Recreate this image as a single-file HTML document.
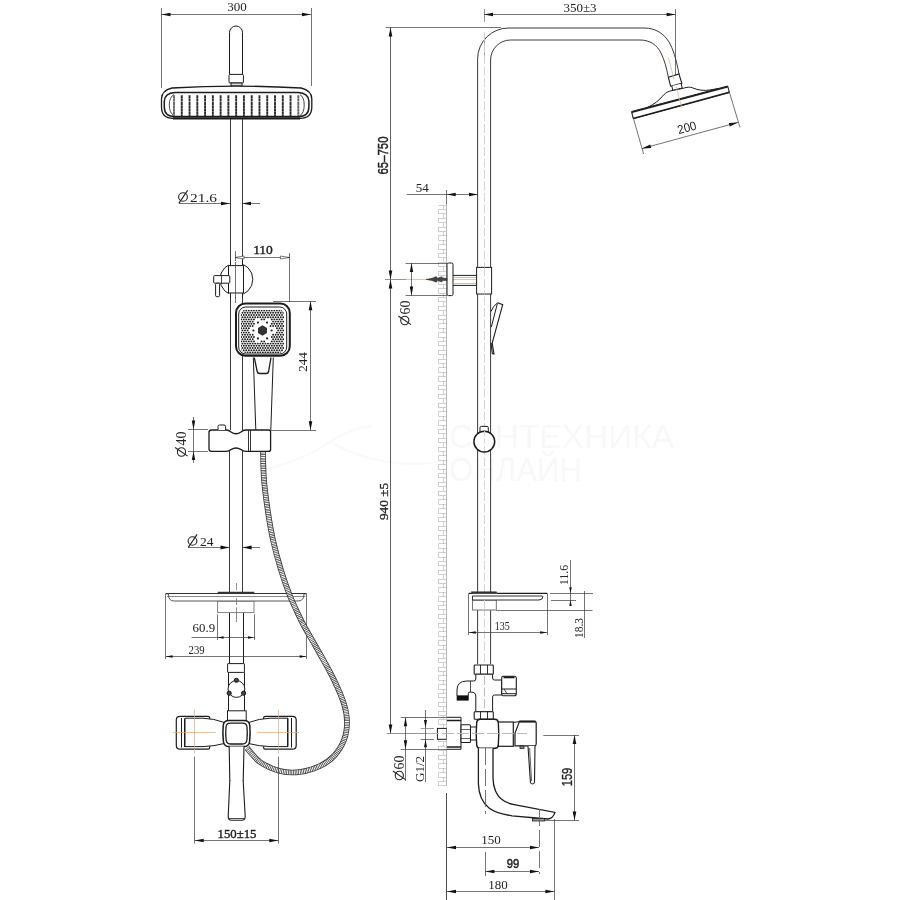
<!DOCTYPE html>
<html><head><meta charset="utf-8"><title>Shower system drawing</title>
<style>html,body{margin:0;padding:0;background:#fff}svg{display:block;will-change:transform}</style>
</head><body>
<svg width="900" height="900" viewBox="0 0 900 900">
<rect width="900" height="900" fill="#fff"/>
<text x="449" y="448" style="font-family:&quot;Liberation Sans&quot;,serif" font-size="34" font-weight="normal" text-anchor="start" fill="#f8f8f8" textLength="225" lengthAdjust="spacingAndGlyphs" >САНТЕХНИКА</text>
<text x="449" y="481" style="font-family:&quot;Liberation Sans&quot;,serif" font-size="34" font-weight="normal" text-anchor="start" fill="#f8f8f8" textLength="133" lengthAdjust="spacingAndGlyphs" >ОНЛАЙН</text>
<path d="M262,470 Q300,462 330,442 Q350,428 372,426 M330,442 Q380,470 440,462" stroke="#fafafa" stroke-width="2.5" fill="none" />
<line x1="161.5" y1="8" x2="161.5" y2="88" stroke="#3a3a3a" stroke-width="0.7" />
<line x1="311.5" y1="8" x2="311.5" y2="86" stroke="#3a3a3a" stroke-width="0.7" />
<line x1="161.5" y1="14.5" x2="311" y2="14.5" stroke="#3a3a3a" stroke-width="0.7" />
<polygon points="161.50,14.50 170.50,12.70 170.50,16.30" fill="#111" stroke="none" stroke-width="0.6"/>
<polygon points="311.00,14.50 302.00,16.30 302.00,12.70" fill="#111" stroke="none" stroke-width="0.6"/>
<text x="237" y="10.5" style="font-family:&quot;Liberation Serif&quot;,serif" font-size="13" font-weight="normal" text-anchor="middle" fill="#222" >300</text>
<path d="M229.5,74.4 V32.5 A6.5,6.5 0 0 1 242.5,32.5 V74.4" stroke="#1c1c1c" stroke-width="1" fill="none" />
<rect x="229" y="74.4" width="14.4" height="8.6" rx="1" stroke="#1c1c1c" stroke-width="1" fill="#fff" />
<rect x="231" y="83" width="11" height="3" rx="0" stroke="#1c1c1c" stroke-width="1" fill="#ddd" />
<line x1="230.5" y1="119" x2="230.5" y2="430" stroke="#303030" stroke-width="0.95" />
<line x1="242.5" y1="119" x2="242.5" y2="430" stroke="#303030" stroke-width="0.95" />
<line x1="229.5" y1="448" x2="229.5" y2="593" stroke="#303030" stroke-width="0.95" />
<line x1="242.5" y1="448" x2="242.5" y2="593" stroke="#303030" stroke-width="0.95" />
<line x1="229.5" y1="612.6" x2="229.5" y2="663.6" stroke="#1c1c1c" stroke-width="1" />
<line x1="243.5" y1="612.6" x2="243.5" y2="663.6" stroke="#1c1c1c" stroke-width="1" />
<path d="M161.5,99 Q161.5,90.5 172,88 Q236,84.2 301,88 Q311.8,90.5 311.8,99 V107 Q311.8,118.3 300,118.3 H173 Q161.5,118.3 161.5,107 Z" stroke="#1c1c1c" stroke-width="1.3" fill="#fff" />
<path d="M173,118.3 H300" stroke="#1c1c1c" stroke-width="2.2" fill="none" />
<path d="M164.3,101 Q164.6,93 175,92.4 H298 Q308.6,93 308.9,101 V107 Q308.9,116.6 298,116.6 H175 Q164.3,116.6 164.3,107 Z" stroke="#1c1c1c" stroke-width="1.5" fill="none" />
<path d="M174,94.6 Q169.3,97 169.3,105 Q169.3,113 174,115.6 M300,94.6 Q304.2,97 304.2,105 Q304.2,113 300,115.6" stroke="#333" stroke-width="0.9" fill="none" />
<line x1="174.0" y1="95.3" x2="174.0" y2="116" stroke="#666" stroke-width="1.9" stroke-dasharray="3 0.3"/>
<line x1="181.77" y1="95.3" x2="181.77" y2="116" stroke="#2a2a2a" stroke-width="1.9" stroke-dasharray="3 0.3"/>
<line x1="189.54" y1="95.3" x2="189.54" y2="116" stroke="#2a2a2a" stroke-width="1.9" stroke-dasharray="3 0.3"/>
<line x1="197.31" y1="95.3" x2="197.31" y2="116" stroke="#2a2a2a" stroke-width="1.9" stroke-dasharray="3 0.3"/>
<line x1="205.08" y1="95.3" x2="205.08" y2="116" stroke="#2a2a2a" stroke-width="1.9" stroke-dasharray="3 0.3"/>
<line x1="212.85" y1="95.3" x2="212.85" y2="116" stroke="#2a2a2a" stroke-width="1.9" stroke-dasharray="3 0.3"/>
<line x1="220.62" y1="95.3" x2="220.62" y2="116" stroke="#2a2a2a" stroke-width="1.9" stroke-dasharray="3 0.3"/>
<line x1="228.39" y1="95.3" x2="228.39" y2="116" stroke="#2a2a2a" stroke-width="1.9" stroke-dasharray="3 0.3"/>
<line x1="236.16" y1="95.3" x2="236.16" y2="116" stroke="#2a2a2a" stroke-width="1.9" stroke-dasharray="3 0.3"/>
<line x1="243.93" y1="95.3" x2="243.93" y2="116" stroke="#2a2a2a" stroke-width="1.9" stroke-dasharray="3 0.3"/>
<line x1="251.7" y1="95.3" x2="251.7" y2="116" stroke="#2a2a2a" stroke-width="1.9" stroke-dasharray="3 0.3"/>
<line x1="259.47" y1="95.3" x2="259.47" y2="116" stroke="#2a2a2a" stroke-width="1.9" stroke-dasharray="3 0.3"/>
<line x1="267.24" y1="95.3" x2="267.24" y2="116" stroke="#2a2a2a" stroke-width="1.9" stroke-dasharray="3 0.3"/>
<line x1="275.01" y1="95.3" x2="275.01" y2="116" stroke="#2a2a2a" stroke-width="1.9" stroke-dasharray="3 0.3"/>
<line x1="282.78" y1="95.3" x2="282.78" y2="116" stroke="#2a2a2a" stroke-width="1.9" stroke-dasharray="3 0.3"/>
<line x1="290.55" y1="95.3" x2="290.55" y2="116" stroke="#2a2a2a" stroke-width="1.9" stroke-dasharray="3 0.3"/>
<line x1="298.32" y1="95.3" x2="298.32" y2="116" stroke="#666" stroke-width="1.9" stroke-dasharray="3 0.3"/>
<line x1="179" y1="203.5" x2="230" y2="203.5" stroke="#3a3a3a" stroke-width="0.7" />
<line x1="242" y1="203.5" x2="260" y2="203.5" stroke="#3a3a3a" stroke-width="0.7" />
<polygon points="230.00,203.50 221.00,205.30 221.00,201.70" fill="#111" stroke="none" stroke-width="0.6"/>
<polygon points="242.00,203.50 251.00,201.70 251.00,205.30" fill="#111" stroke="none" stroke-width="0.6"/>
<g transform="rotate(0 183 197)"><ellipse cx="183" cy="197" rx="4.4" ry="4.18" fill="none" stroke="#222" stroke-width="1.1"/><line x1="178.82" y1="203.38" x2="187.62" y2="190.4" stroke="#222" stroke-width="1.1"/></g>
<text x="190" y="201.8" style="font-family:&quot;Liberation Serif&quot;,serif" font-size="13.5" font-weight="normal" text-anchor="start" fill="#222" textLength="27" lengthAdjust="spacingAndGlyphs" >21.6</text>
<line x1="235.5" y1="251" x2="235.5" y2="303" stroke="#3a3a3a" stroke-width="0.7" />
<line x1="289.5" y1="253" x2="289.5" y2="302" stroke="#3a3a3a" stroke-width="0.7" />
<line x1="235" y1="257.5" x2="289.4" y2="257.5" stroke="#3a3a3a" stroke-width="0.7" />
<polygon points="235.00,257.50 244.00,256.00 244.00,259.00" fill="#fff" stroke="#222" stroke-width="0.6"/>
<polygon points="289.40,257.50 280.40,259.00 280.40,256.00" fill="#fff" stroke="#222" stroke-width="0.6"/>
<text x="263" y="253.8" style="font-family:&quot;Liberation Serif&quot;,serif" font-size="13.5" font-weight="normal" text-anchor="middle" fill="#222" stroke="#222" stroke-width="0.4">110</text>
<circle cx="236.4" cy="279.3" r="16.4" stroke="#1c1c1c" stroke-width="1" fill="#fff"/>
<rect x="228.6" y="261" width="14.8" height="36" rx="0" stroke="none" stroke-width="0" fill="#fff" />
<rect x="228.5" y="265.6" width="15.0" height="27.4" rx="0" stroke="#1c1c1c" stroke-width="1" fill="#fff" />
<line x1="230.5" y1="261" x2="230.5" y2="265.6" stroke="#1c1c1c" stroke-width="1" />
<line x1="242.5" y1="261" x2="242.5" y2="265.6" stroke="#1c1c1c" stroke-width="1" />
<line x1="230.5" y1="293" x2="230.5" y2="298" stroke="#1c1c1c" stroke-width="1" />
<line x1="242.5" y1="293" x2="242.5" y2="298" stroke="#1c1c1c" stroke-width="1" />
<line x1="235.5" y1="262" x2="235.5" y2="298" stroke="#3a3a3a" stroke-width="0.7" />
<rect x="213.7" y="275.6" width="16.1" height="7.6" rx="0.8" stroke="#1c1c1c" stroke-width="1" fill="#fff" />
<rect x="215.6" y="283.2" width="4.0" height="13.5" rx="1.2" stroke="#1c1c1c" stroke-width="1" fill="#fff" />
<line x1="221.5" y1="275.6" x2="221.5" y2="283.2" stroke="#1c1c1c" stroke-width="0.8" />
<rect x="236" y="303.5" width="53.8" height="52.3" rx="9.5" stroke="#1c1c1c" stroke-width="2" fill="#fff" />
<rect x="238.7" y="307" width="48.0" height="47" rx="7" stroke="#1c1c1c" stroke-width="1" fill="none" />
<clipPath id="hc"><rect x="241" y="309.5" width="43" height="43.5" rx="5"/></clipPath>
<g clip-path="url(#hc)">
<circle cx="241.20" cy="310.60" r="0.95" fill="#1e1e1e"/>
<circle cx="243.75" cy="310.60" r="0.95" fill="#1e1e1e"/>
<circle cx="246.30" cy="310.60" r="0.95" fill="#1e1e1e"/>
<circle cx="248.85" cy="310.60" r="0.95" fill="#1e1e1e"/>
<circle cx="251.40" cy="310.60" r="0.95" fill="#1e1e1e"/>
<circle cx="253.95" cy="310.60" r="0.95" fill="#1e1e1e"/>
<circle cx="256.50" cy="310.60" r="0.95" fill="#1e1e1e"/>
<circle cx="259.05" cy="310.60" r="0.95" fill="#1e1e1e"/>
<circle cx="261.60" cy="310.60" r="0.95" fill="#1e1e1e"/>
<circle cx="264.15" cy="310.60" r="0.95" fill="#1e1e1e"/>
<circle cx="266.70" cy="310.60" r="0.95" fill="#1e1e1e"/>
<circle cx="269.25" cy="310.60" r="0.95" fill="#1e1e1e"/>
<circle cx="271.80" cy="310.60" r="0.95" fill="#1e1e1e"/>
<circle cx="274.35" cy="310.60" r="0.95" fill="#1e1e1e"/>
<circle cx="276.90" cy="310.60" r="0.95" fill="#1e1e1e"/>
<circle cx="279.45" cy="310.60" r="0.95" fill="#1e1e1e"/>
<circle cx="282.00" cy="310.60" r="0.95" fill="#1e1e1e"/>
<circle cx="242.47" cy="312.80" r="0.95" fill="#1e1e1e"/>
<circle cx="245.03" cy="312.80" r="0.95" fill="#1e1e1e"/>
<circle cx="247.58" cy="312.80" r="0.95" fill="#1e1e1e"/>
<circle cx="250.13" cy="312.80" r="0.95" fill="#1e1e1e"/>
<circle cx="252.68" cy="312.80" r="0.95" fill="#1e1e1e"/>
<circle cx="255.23" cy="312.80" r="0.95" fill="#1e1e1e"/>
<circle cx="257.78" cy="312.80" r="0.95" fill="#1e1e1e"/>
<circle cx="260.33" cy="312.80" r="0.95" fill="#1e1e1e"/>
<circle cx="262.88" cy="312.80" r="0.95" fill="#1e1e1e"/>
<circle cx="265.43" cy="312.80" r="0.95" fill="#1e1e1e"/>
<circle cx="267.98" cy="312.80" r="0.95" fill="#1e1e1e"/>
<circle cx="270.53" cy="312.80" r="0.95" fill="#1e1e1e"/>
<circle cx="273.08" cy="312.80" r="0.95" fill="#1e1e1e"/>
<circle cx="275.63" cy="312.80" r="0.95" fill="#1e1e1e"/>
<circle cx="278.18" cy="312.80" r="0.95" fill="#1e1e1e"/>
<circle cx="280.73" cy="312.80" r="0.95" fill="#1e1e1e"/>
<circle cx="283.28" cy="312.80" r="0.95" fill="#1e1e1e"/>
<circle cx="241.20" cy="315.00" r="0.95" fill="#1e1e1e"/>
<circle cx="243.75" cy="315.00" r="0.95" fill="#1e1e1e"/>
<circle cx="246.30" cy="315.00" r="0.95" fill="#1e1e1e"/>
<circle cx="248.85" cy="315.00" r="0.95" fill="#1e1e1e"/>
<circle cx="251.40" cy="315.00" r="0.95" fill="#1e1e1e"/>
<circle cx="253.95" cy="315.00" r="0.95" fill="#1e1e1e"/>
<circle cx="256.50" cy="315.00" r="0.95" fill="#1e1e1e"/>
<circle cx="259.05" cy="315.00" r="0.95" fill="#1e1e1e"/>
<circle cx="261.60" cy="315.00" r="0.95" fill="#1e1e1e"/>
<circle cx="264.15" cy="315.00" r="0.95" fill="#1e1e1e"/>
<circle cx="266.70" cy="315.00" r="0.95" fill="#1e1e1e"/>
<circle cx="269.25" cy="315.00" r="0.95" fill="#1e1e1e"/>
<circle cx="271.80" cy="315.00" r="0.95" fill="#1e1e1e"/>
<circle cx="274.35" cy="315.00" r="0.95" fill="#1e1e1e"/>
<circle cx="276.90" cy="315.00" r="0.95" fill="#1e1e1e"/>
<circle cx="279.45" cy="315.00" r="0.95" fill="#1e1e1e"/>
<circle cx="282.00" cy="315.00" r="0.95" fill="#1e1e1e"/>
<circle cx="242.47" cy="317.20" r="0.95" fill="#1e1e1e"/>
<circle cx="245.03" cy="317.20" r="0.95" fill="#1e1e1e"/>
<circle cx="247.58" cy="317.20" r="0.95" fill="#1e1e1e"/>
<circle cx="250.13" cy="317.20" r="0.95" fill="#1e1e1e"/>
<circle cx="252.68" cy="317.20" r="0.95" fill="#1e1e1e"/>
<circle cx="255.23" cy="317.20" r="0.95" fill="#1e1e1e"/>
<circle cx="257.78" cy="317.20" r="0.95" fill="#1e1e1e"/>
<circle cx="260.33" cy="317.20" r="0.95" fill="#1e1e1e"/>
<circle cx="262.88" cy="317.20" r="0.95" fill="#1e1e1e"/>
<circle cx="265.43" cy="317.20" r="0.95" fill="#1e1e1e"/>
<circle cx="267.98" cy="317.20" r="0.95" fill="#1e1e1e"/>
<circle cx="270.53" cy="317.20" r="0.95" fill="#1e1e1e"/>
<circle cx="273.08" cy="317.20" r="0.95" fill="#1e1e1e"/>
<circle cx="275.63" cy="317.20" r="0.95" fill="#1e1e1e"/>
<circle cx="278.18" cy="317.20" r="0.95" fill="#1e1e1e"/>
<circle cx="280.73" cy="317.20" r="0.95" fill="#1e1e1e"/>
<circle cx="283.28" cy="317.20" r="0.95" fill="#1e1e1e"/>
<circle cx="241.20" cy="319.40" r="0.95" fill="#1e1e1e"/>
<circle cx="243.75" cy="319.40" r="0.95" fill="#1e1e1e"/>
<circle cx="246.30" cy="319.40" r="0.95" fill="#1e1e1e"/>
<circle cx="248.85" cy="319.40" r="0.95" fill="#1e1e1e"/>
<circle cx="251.40" cy="319.40" r="0.95" fill="#1e1e1e"/>
<circle cx="253.95" cy="319.40" r="0.95" fill="#1e1e1e"/>
<circle cx="261.60" cy="319.40" r="0.95" fill="#1e1e1e"/>
<circle cx="264.15" cy="319.40" r="0.95" fill="#1e1e1e"/>
<circle cx="271.80" cy="319.40" r="0.95" fill="#1e1e1e"/>
<circle cx="274.35" cy="319.40" r="0.95" fill="#1e1e1e"/>
<circle cx="276.90" cy="319.40" r="0.95" fill="#1e1e1e"/>
<circle cx="279.45" cy="319.40" r="0.95" fill="#1e1e1e"/>
<circle cx="282.00" cy="319.40" r="0.95" fill="#1e1e1e"/>
<circle cx="242.47" cy="321.60" r="0.95" fill="#1e1e1e"/>
<circle cx="245.03" cy="321.60" r="0.95" fill="#1e1e1e"/>
<circle cx="247.58" cy="321.60" r="0.95" fill="#1e1e1e"/>
<circle cx="250.13" cy="321.60" r="0.95" fill="#1e1e1e"/>
<circle cx="252.68" cy="321.60" r="0.95" fill="#1e1e1e"/>
<circle cx="273.08" cy="321.60" r="0.95" fill="#1e1e1e"/>
<circle cx="275.63" cy="321.60" r="0.95" fill="#1e1e1e"/>
<circle cx="278.18" cy="321.60" r="0.95" fill="#1e1e1e"/>
<circle cx="280.73" cy="321.60" r="0.95" fill="#1e1e1e"/>
<circle cx="283.28" cy="321.60" r="0.95" fill="#1e1e1e"/>
<circle cx="241.20" cy="323.80" r="0.95" fill="#1e1e1e"/>
<circle cx="243.75" cy="323.80" r="0.95" fill="#1e1e1e"/>
<circle cx="246.30" cy="323.80" r="0.95" fill="#1e1e1e"/>
<circle cx="248.85" cy="323.80" r="0.95" fill="#1e1e1e"/>
<circle cx="251.40" cy="323.80" r="0.95" fill="#1e1e1e"/>
<circle cx="253.95" cy="323.80" r="0.95" fill="#1e1e1e"/>
<circle cx="271.80" cy="323.80" r="0.95" fill="#1e1e1e"/>
<circle cx="274.35" cy="323.80" r="0.95" fill="#1e1e1e"/>
<circle cx="276.90" cy="323.80" r="0.95" fill="#1e1e1e"/>
<circle cx="279.45" cy="323.80" r="0.95" fill="#1e1e1e"/>
<circle cx="282.00" cy="323.80" r="0.95" fill="#1e1e1e"/>
<circle cx="242.47" cy="326.00" r="0.95" fill="#1e1e1e"/>
<circle cx="245.03" cy="326.00" r="0.95" fill="#1e1e1e"/>
<circle cx="247.58" cy="326.00" r="0.95" fill="#1e1e1e"/>
<circle cx="250.13" cy="326.00" r="0.95" fill="#1e1e1e"/>
<circle cx="252.68" cy="326.00" r="0.95" fill="#1e1e1e"/>
<circle cx="270.53" cy="326.00" r="0.95" fill="#1e1e1e"/>
<circle cx="273.08" cy="326.00" r="0.95" fill="#1e1e1e"/>
<circle cx="275.63" cy="326.00" r="0.95" fill="#1e1e1e"/>
<circle cx="278.18" cy="326.00" r="0.95" fill="#1e1e1e"/>
<circle cx="280.73" cy="326.00" r="0.95" fill="#1e1e1e"/>
<circle cx="283.28" cy="326.00" r="0.95" fill="#1e1e1e"/>
<circle cx="241.20" cy="328.20" r="0.95" fill="#1e1e1e"/>
<circle cx="243.75" cy="328.20" r="0.95" fill="#1e1e1e"/>
<circle cx="246.30" cy="328.20" r="0.95" fill="#1e1e1e"/>
<circle cx="248.85" cy="328.20" r="0.95" fill="#1e1e1e"/>
<circle cx="276.90" cy="328.20" r="0.95" fill="#1e1e1e"/>
<circle cx="279.45" cy="328.20" r="0.95" fill="#1e1e1e"/>
<circle cx="282.00" cy="328.20" r="0.95" fill="#1e1e1e"/>
<circle cx="242.47" cy="330.40" r="0.95" fill="#1e1e1e"/>
<circle cx="245.03" cy="330.40" r="0.95" fill="#1e1e1e"/>
<circle cx="247.58" cy="330.40" r="0.95" fill="#1e1e1e"/>
<circle cx="278.18" cy="330.40" r="0.95" fill="#1e1e1e"/>
<circle cx="280.73" cy="330.40" r="0.95" fill="#1e1e1e"/>
<circle cx="283.28" cy="330.40" r="0.95" fill="#1e1e1e"/>
<circle cx="241.20" cy="332.60" r="0.95" fill="#1e1e1e"/>
<circle cx="243.75" cy="332.60" r="0.95" fill="#1e1e1e"/>
<circle cx="246.30" cy="332.60" r="0.95" fill="#1e1e1e"/>
<circle cx="248.85" cy="332.60" r="0.95" fill="#1e1e1e"/>
<circle cx="276.90" cy="332.60" r="0.95" fill="#1e1e1e"/>
<circle cx="279.45" cy="332.60" r="0.95" fill="#1e1e1e"/>
<circle cx="282.00" cy="332.60" r="0.95" fill="#1e1e1e"/>
<circle cx="242.47" cy="334.80" r="0.95" fill="#1e1e1e"/>
<circle cx="245.03" cy="334.80" r="0.95" fill="#1e1e1e"/>
<circle cx="247.58" cy="334.80" r="0.95" fill="#1e1e1e"/>
<circle cx="250.13" cy="334.80" r="0.95" fill="#1e1e1e"/>
<circle cx="252.68" cy="334.80" r="0.95" fill="#1e1e1e"/>
<circle cx="273.08" cy="334.80" r="0.95" fill="#1e1e1e"/>
<circle cx="275.63" cy="334.80" r="0.95" fill="#1e1e1e"/>
<circle cx="278.18" cy="334.80" r="0.95" fill="#1e1e1e"/>
<circle cx="280.73" cy="334.80" r="0.95" fill="#1e1e1e"/>
<circle cx="283.28" cy="334.80" r="0.95" fill="#1e1e1e"/>
<circle cx="241.20" cy="337.00" r="0.95" fill="#1e1e1e"/>
<circle cx="243.75" cy="337.00" r="0.95" fill="#1e1e1e"/>
<circle cx="246.30" cy="337.00" r="0.95" fill="#1e1e1e"/>
<circle cx="248.85" cy="337.00" r="0.95" fill="#1e1e1e"/>
<circle cx="251.40" cy="337.00" r="0.95" fill="#1e1e1e"/>
<circle cx="253.95" cy="337.00" r="0.95" fill="#1e1e1e"/>
<circle cx="271.80" cy="337.00" r="0.95" fill="#1e1e1e"/>
<circle cx="274.35" cy="337.00" r="0.95" fill="#1e1e1e"/>
<circle cx="276.90" cy="337.00" r="0.95" fill="#1e1e1e"/>
<circle cx="279.45" cy="337.00" r="0.95" fill="#1e1e1e"/>
<circle cx="282.00" cy="337.00" r="0.95" fill="#1e1e1e"/>
<circle cx="242.47" cy="339.20" r="0.95" fill="#1e1e1e"/>
<circle cx="245.03" cy="339.20" r="0.95" fill="#1e1e1e"/>
<circle cx="247.58" cy="339.20" r="0.95" fill="#1e1e1e"/>
<circle cx="250.13" cy="339.20" r="0.95" fill="#1e1e1e"/>
<circle cx="252.68" cy="339.20" r="0.95" fill="#1e1e1e"/>
<circle cx="273.08" cy="339.20" r="0.95" fill="#1e1e1e"/>
<circle cx="275.63" cy="339.20" r="0.95" fill="#1e1e1e"/>
<circle cx="278.18" cy="339.20" r="0.95" fill="#1e1e1e"/>
<circle cx="280.73" cy="339.20" r="0.95" fill="#1e1e1e"/>
<circle cx="283.28" cy="339.20" r="0.95" fill="#1e1e1e"/>
<circle cx="241.20" cy="341.40" r="0.95" fill="#1e1e1e"/>
<circle cx="243.75" cy="341.40" r="0.95" fill="#1e1e1e"/>
<circle cx="246.30" cy="341.40" r="0.95" fill="#1e1e1e"/>
<circle cx="248.85" cy="341.40" r="0.95" fill="#1e1e1e"/>
<circle cx="251.40" cy="341.40" r="0.95" fill="#1e1e1e"/>
<circle cx="253.95" cy="341.40" r="0.95" fill="#1e1e1e"/>
<circle cx="261.60" cy="341.40" r="0.95" fill="#1e1e1e"/>
<circle cx="264.15" cy="341.40" r="0.95" fill="#1e1e1e"/>
<circle cx="271.80" cy="341.40" r="0.95" fill="#1e1e1e"/>
<circle cx="274.35" cy="341.40" r="0.95" fill="#1e1e1e"/>
<circle cx="276.90" cy="341.40" r="0.95" fill="#1e1e1e"/>
<circle cx="279.45" cy="341.40" r="0.95" fill="#1e1e1e"/>
<circle cx="282.00" cy="341.40" r="0.95" fill="#1e1e1e"/>
<circle cx="242.47" cy="343.60" r="0.95" fill="#1e1e1e"/>
<circle cx="245.03" cy="343.60" r="0.95" fill="#1e1e1e"/>
<circle cx="247.58" cy="343.60" r="0.95" fill="#1e1e1e"/>
<circle cx="250.13" cy="343.60" r="0.95" fill="#1e1e1e"/>
<circle cx="252.68" cy="343.60" r="0.95" fill="#1e1e1e"/>
<circle cx="255.23" cy="343.60" r="0.95" fill="#1e1e1e"/>
<circle cx="257.78" cy="343.60" r="0.95" fill="#1e1e1e"/>
<circle cx="260.33" cy="343.60" r="0.95" fill="#1e1e1e"/>
<circle cx="262.88" cy="343.60" r="0.95" fill="#1e1e1e"/>
<circle cx="265.43" cy="343.60" r="0.95" fill="#1e1e1e"/>
<circle cx="267.98" cy="343.60" r="0.95" fill="#1e1e1e"/>
<circle cx="270.53" cy="343.60" r="0.95" fill="#1e1e1e"/>
<circle cx="273.08" cy="343.60" r="0.95" fill="#1e1e1e"/>
<circle cx="275.63" cy="343.60" r="0.95" fill="#1e1e1e"/>
<circle cx="278.18" cy="343.60" r="0.95" fill="#1e1e1e"/>
<circle cx="280.73" cy="343.60" r="0.95" fill="#1e1e1e"/>
<circle cx="283.28" cy="343.60" r="0.95" fill="#1e1e1e"/>
<circle cx="241.20" cy="345.80" r="0.95" fill="#1e1e1e"/>
<circle cx="243.75" cy="345.80" r="0.95" fill="#1e1e1e"/>
<circle cx="246.30" cy="345.80" r="0.95" fill="#1e1e1e"/>
<circle cx="248.85" cy="345.80" r="0.95" fill="#1e1e1e"/>
<circle cx="251.40" cy="345.80" r="0.95" fill="#1e1e1e"/>
<circle cx="253.95" cy="345.80" r="0.95" fill="#1e1e1e"/>
<circle cx="256.50" cy="345.80" r="0.95" fill="#1e1e1e"/>
<circle cx="259.05" cy="345.80" r="0.95" fill="#1e1e1e"/>
<circle cx="261.60" cy="345.80" r="0.95" fill="#1e1e1e"/>
<circle cx="264.15" cy="345.80" r="0.95" fill="#1e1e1e"/>
<circle cx="266.70" cy="345.80" r="0.95" fill="#1e1e1e"/>
<circle cx="269.25" cy="345.80" r="0.95" fill="#1e1e1e"/>
<circle cx="271.80" cy="345.80" r="0.95" fill="#1e1e1e"/>
<circle cx="274.35" cy="345.80" r="0.95" fill="#1e1e1e"/>
<circle cx="276.90" cy="345.80" r="0.95" fill="#1e1e1e"/>
<circle cx="279.45" cy="345.80" r="0.95" fill="#1e1e1e"/>
<circle cx="282.00" cy="345.80" r="0.95" fill="#1e1e1e"/>
<circle cx="242.47" cy="348.00" r="0.95" fill="#1e1e1e"/>
<circle cx="245.03" cy="348.00" r="0.95" fill="#1e1e1e"/>
<circle cx="247.58" cy="348.00" r="0.95" fill="#1e1e1e"/>
<circle cx="250.13" cy="348.00" r="0.95" fill="#1e1e1e"/>
<circle cx="252.68" cy="348.00" r="0.95" fill="#1e1e1e"/>
<circle cx="255.23" cy="348.00" r="0.95" fill="#1e1e1e"/>
<circle cx="257.78" cy="348.00" r="0.95" fill="#1e1e1e"/>
<circle cx="260.33" cy="348.00" r="0.95" fill="#1e1e1e"/>
<circle cx="262.88" cy="348.00" r="0.95" fill="#1e1e1e"/>
<circle cx="265.43" cy="348.00" r="0.95" fill="#1e1e1e"/>
<circle cx="267.98" cy="348.00" r="0.95" fill="#1e1e1e"/>
<circle cx="270.53" cy="348.00" r="0.95" fill="#1e1e1e"/>
<circle cx="273.08" cy="348.00" r="0.95" fill="#1e1e1e"/>
<circle cx="275.63" cy="348.00" r="0.95" fill="#1e1e1e"/>
<circle cx="278.18" cy="348.00" r="0.95" fill="#1e1e1e"/>
<circle cx="280.73" cy="348.00" r="0.95" fill="#1e1e1e"/>
<circle cx="283.28" cy="348.00" r="0.95" fill="#1e1e1e"/>
<circle cx="241.20" cy="350.20" r="0.95" fill="#1e1e1e"/>
<circle cx="243.75" cy="350.20" r="0.95" fill="#1e1e1e"/>
<circle cx="246.30" cy="350.20" r="0.95" fill="#1e1e1e"/>
<circle cx="248.85" cy="350.20" r="0.95" fill="#1e1e1e"/>
<circle cx="251.40" cy="350.20" r="0.95" fill="#1e1e1e"/>
<circle cx="253.95" cy="350.20" r="0.95" fill="#1e1e1e"/>
<circle cx="256.50" cy="350.20" r="0.95" fill="#1e1e1e"/>
<circle cx="259.05" cy="350.20" r="0.95" fill="#1e1e1e"/>
<circle cx="261.60" cy="350.20" r="0.95" fill="#1e1e1e"/>
<circle cx="264.15" cy="350.20" r="0.95" fill="#1e1e1e"/>
<circle cx="266.70" cy="350.20" r="0.95" fill="#1e1e1e"/>
<circle cx="269.25" cy="350.20" r="0.95" fill="#1e1e1e"/>
<circle cx="271.80" cy="350.20" r="0.95" fill="#1e1e1e"/>
<circle cx="274.35" cy="350.20" r="0.95" fill="#1e1e1e"/>
<circle cx="276.90" cy="350.20" r="0.95" fill="#1e1e1e"/>
<circle cx="279.45" cy="350.20" r="0.95" fill="#1e1e1e"/>
<circle cx="282.00" cy="350.20" r="0.95" fill="#1e1e1e"/>
<circle cx="242.47" cy="352.40" r="0.95" fill="#1e1e1e"/>
<circle cx="245.03" cy="352.40" r="0.95" fill="#1e1e1e"/>
<circle cx="247.58" cy="352.40" r="0.95" fill="#1e1e1e"/>
<circle cx="250.13" cy="352.40" r="0.95" fill="#1e1e1e"/>
<circle cx="252.68" cy="352.40" r="0.95" fill="#1e1e1e"/>
<circle cx="255.23" cy="352.40" r="0.95" fill="#1e1e1e"/>
<circle cx="257.78" cy="352.40" r="0.95" fill="#1e1e1e"/>
<circle cx="260.33" cy="352.40" r="0.95" fill="#1e1e1e"/>
<circle cx="262.88" cy="352.40" r="0.95" fill="#1e1e1e"/>
<circle cx="265.43" cy="352.40" r="0.95" fill="#1e1e1e"/>
<circle cx="267.98" cy="352.40" r="0.95" fill="#1e1e1e"/>
<circle cx="270.53" cy="352.40" r="0.95" fill="#1e1e1e"/>
<circle cx="273.08" cy="352.40" r="0.95" fill="#1e1e1e"/>
<circle cx="275.63" cy="352.40" r="0.95" fill="#1e1e1e"/>
<circle cx="278.18" cy="352.40" r="0.95" fill="#1e1e1e"/>
<circle cx="280.73" cy="352.40" r="0.95" fill="#1e1e1e"/>
<circle cx="283.28" cy="352.40" r="0.95" fill="#1e1e1e"/>
</g>
<polygon points="267.00,333.10 262.50,335.70 258.00,333.10 258.00,327.90 262.50,325.30 267.00,327.90" fill="#333"/>
<circle cx="271.60" cy="330.50" r="1.1" fill="#222"/>
<circle cx="267.05" cy="338.38" r="1.1" fill="#222"/>
<circle cx="257.95" cy="338.38" r="1.1" fill="#222"/>
<circle cx="253.40" cy="330.50" r="1.1" fill="#222"/>
<circle cx="257.95" cy="322.62" r="1.1" fill="#222"/>
<circle cx="267.05" cy="322.62" r="1.1" fill="#222"/>
<path d="M253.3,357.5 L255.8,430 M273.3,357.5 L270.8,430" stroke="#1c1c1c" stroke-width="1" fill="none" />
<path d="M254.3,357.7 L257.2,371.5 Q257.6,373.5 259.5,373.5 H266.3 Q268.2,373.5 268.6,371.5 L271,357.7" stroke="#1c1c1c" stroke-width="1.3" fill="#fff" />
<line x1="273" y1="301.5" x2="316" y2="301.5" stroke="#3a3a3a" stroke-width="0.7" />
<line x1="271" y1="430.5" x2="316" y2="430.5" stroke="#3a3a3a" stroke-width="0.7" />
<line x1="310.5" y1="301.3" x2="310.5" y2="430.2" stroke="#3a3a3a" stroke-width="0.7" />
<polygon points="310.50,301.30 312.30,310.30 308.70,310.30" fill="#111" stroke="none" stroke-width="0.6"/>
<polygon points="310.50,430.20 308.70,421.20 312.30,421.20" fill="#111" stroke="none" stroke-width="0.6"/>
<text x="306.5" y="362" style="font-family:&quot;Liberation Serif&quot;,serif" font-size="13" font-weight="normal" text-anchor="middle" fill="#222" transform="rotate(-90 306.5 362)" >244</text>
<path d="M211.5,430 H226 Q229,430 231,432 Q236,435.5 241,432 Q243,430 246,430 H268.5 Q270.6,430 270.6,432 V449.4 Q270.6,451.4 268.5,451.4 H246 Q243,451.4 241,449.6 Q236,446.4 231,449.6 Q229,451.4 226,451.4 H211.5 Q209,451.4 209,449 V432.4 Q209,430 211.5,430 Z" stroke="#1c1c1c" stroke-width="1.3" fill="#fff" />
<line x1="248.5" y1="430" x2="248.5" y2="451.4" stroke="#1c1c1c" stroke-width="0.9" />
<line x1="250.5" y1="430" x2="250.5" y2="451.4" stroke="#1c1c1c" stroke-width="0.9" />
<path d="M218,430 V426.5 Q218,425 219.5,425 H224 Q225.6,425 225.6,426.5 V430" stroke="#1c1c1c" stroke-width="1" fill="#fff" />
<line x1="188" y1="429.5" x2="208" y2="429.5" stroke="#3a3a3a" stroke-width="0.7" />
<line x1="188" y1="451.5" x2="208" y2="451.5" stroke="#3a3a3a" stroke-width="0.7" />
<line x1="193.5" y1="417" x2="193.5" y2="463" stroke="#3a3a3a" stroke-width="0.7" />
<polygon points="193.50,429.60 191.80,420.60 195.20,420.60" fill="#111" stroke="none" stroke-width="0.6"/>
<polygon points="193.50,451.00 195.20,460.00 191.80,460.00" fill="#111" stroke="none" stroke-width="0.6"/>
<g transform="rotate(-90 181.5 452)"><ellipse cx="181.5" cy="452" rx="4.3" ry="4.085" fill="none" stroke="#222" stroke-width="1.1"/><line x1="177.415" y1="458.235" x2="186.015" y2="445.55" stroke="#222" stroke-width="1.1"/></g>
<text x="186.3" y="445.5" style="font-family:&quot;Liberation Serif&quot;,serif" font-size="14" font-weight="normal" text-anchor="start" fill="#222" transform="rotate(-90 186.3 445.5)" >40</text>
<line x1="188" y1="547.5" x2="229.5" y2="547.5" stroke="#3a3a3a" stroke-width="0.7" />
<line x1="242.6" y1="547.5" x2="260" y2="547.5" stroke="#3a3a3a" stroke-width="0.7" />
<polygon points="229.50,547.50 220.50,549.40 220.50,545.60" fill="#111" stroke="none" stroke-width="0.6"/>
<polygon points="242.60,547.50 251.60,545.60 251.60,549.40" fill="#111" stroke="none" stroke-width="0.6"/>
<g transform="rotate(0 192.5 541)"><ellipse cx="192.5" cy="541" rx="4.4" ry="4.18" fill="none" stroke="#222" stroke-width="1.1"/><line x1="188.32" y1="547.38" x2="197.12" y2="534.4" stroke="#222" stroke-width="1.1"/></g>
<text x="200" y="545.6" style="font-family:&quot;Liberation Serif&quot;,serif" font-size="13.5" font-weight="normal" text-anchor="start" fill="#222" >24</text>
<line x1="236.5" y1="583" x2="236.5" y2="622" stroke="#777" stroke-width="0.8" stroke-dasharray="7 2.5"/>
<rect x="217.6" y="601" width="36.4" height="11.6" rx="0" stroke="#777" stroke-width="0.9" fill="#fff" />
<path d="M165.6,593.6 H306.6" stroke="#333" stroke-width="1.1" fill="none" />
<path d="M168.3,594 Q168.3,601 174,601 H298 Q304,601 304,594" stroke="#444" stroke-width="0.9" fill="#fff" />
<line x1="167" y1="596.5" x2="305.5" y2="596.5" stroke="#555" stroke-width="0.7" />
<rect x="218" y="592" width="36" height="1.8" rx="0" stroke="#333" stroke-width="0.5" fill="#333" />
<line x1="236.5" y1="598" x2="236.5" y2="622" stroke="#777" stroke-width="0.8" stroke-dasharray="7 2.5"/>
<line x1="217.5" y1="614.4" x2="217.5" y2="640" stroke="#3a3a3a" stroke-width="0.7" />
<line x1="254.5" y1="614.4" x2="254.5" y2="640" stroke="#3a3a3a" stroke-width="0.7" />
<line x1="191.6" y1="637.5" x2="254" y2="637.5" stroke="#3a3a3a" stroke-width="0.7" />
<polygon points="217.60,637.50 223.60,636.30 223.60,638.70" fill="#111" stroke="none" stroke-width="0.6"/>
<polygon points="254.00,637.50 248.00,638.70 248.00,636.30" fill="#111" stroke="none" stroke-width="0.6"/>
<text x="192.6" y="632.4" style="font-family:&quot;Liberation Serif&quot;,serif" font-size="13" font-weight="normal" text-anchor="start" fill="#222" textLength="22.5" lengthAdjust="spacingAndGlyphs" >60.9</text>
<line x1="165.5" y1="594" x2="165.5" y2="659" stroke="#3a3a3a" stroke-width="0.7" />
<line x1="306.5" y1="594" x2="306.5" y2="659" stroke="#3a3a3a" stroke-width="0.7" />
<line x1="165.6" y1="656.5" x2="306.6" y2="656.5" stroke="#3a3a3a" stroke-width="0.7" />
<polygon points="165.60,656.50 172.60,655.20 172.60,657.80" fill="#111" stroke="none" stroke-width="0.6"/>
<polygon points="306.60,656.50 299.60,657.80 299.60,655.20" fill="#111" stroke="none" stroke-width="0.6"/>
<text x="188.6" y="654" style="font-family:&quot;Liberation Serif&quot;,serif" font-size="13" font-weight="normal" text-anchor="start" fill="#222" textLength="16" lengthAdjust="spacingAndGlyphs" >239</text>
<path d="M263,452 C263.17,456.67 263.17,470.00 264,480 C264.83,490.00 266.50,502.00 268,512 C269.50,522.00 270.83,530.33 273,540 C275.17,549.67 278.17,560.67 281,570 C283.83,579.33 286.83,588.00 290,596 C293.17,604.00 297.67,613.00 300,618 C302.33,623.00 300.67,620.00 304,626 C307.33,632.00 315.00,645.00 320,654 C325.00,663.00 330.00,671.67 334,680 C338.00,688.33 341.83,697.00 344,704 C346.17,711.00 347.00,716.00 347,722 C347.00,728.00 346.17,734.33 344,740 C341.83,745.67 338.00,751.67 334,756 C330.00,760.33 325.67,763.33 320,766 C314.33,768.67 306.67,771.17 300,772 C293.33,772.83 286.67,772.67 280,771 C273.33,769.33 265.50,765.83 260,762 C254.50,758.17 249.17,750.33 247,748" stroke="#3a3a3a" stroke-width="5.7" fill="none" />
<path d="M263,452 C263.17,456.67 263.17,470.00 264,480 C264.83,490.00 266.50,502.00 268,512 C269.50,522.00 270.83,530.33 273,540 C275.17,549.67 278.17,560.67 281,570 C283.83,579.33 286.83,588.00 290,596 C293.17,604.00 297.67,613.00 300,618 C302.33,623.00 300.67,620.00 304,626 C307.33,632.00 315.00,645.00 320,654 C325.00,663.00 330.00,671.67 334,680 C338.00,688.33 341.83,697.00 344,704 C346.17,711.00 347.00,716.00 347,722 C347.00,728.00 346.17,734.33 344,740 C341.83,745.67 338.00,751.67 334,756 C330.00,760.33 325.67,763.33 320,766 C314.33,768.67 306.67,771.17 300,772 C293.33,772.83 286.67,772.67 280,771 C273.33,769.33 265.50,765.83 260,762 C254.50,758.17 249.17,750.33 247,748" stroke="#fff" stroke-width="4.1" fill="none" stroke-dasharray="0.95 0.75"/>
<rect x="227.6" y="663.6" width="16.8" height="8.8" rx="0.5" stroke="#1c1c1c" stroke-width="1" fill="#fff" />
<line x1="228.5" y1="672.4" x2="228.5" y2="710.8" stroke="#1c1c1c" stroke-width="1" />
<line x1="244.5" y1="672.4" x2="244.5" y2="710.8" stroke="#1c1c1c" stroke-width="1" />
<rect x="227.5" y="710.8" width="18.7" height="10.2" rx="0" stroke="#1c1c1c" stroke-width="1" fill="#fff" />
<circle cx="236.4" cy="689" r="8.4" stroke="#1c1c1c" stroke-width="1" fill="#fff"/>
<circle cx="236.4" cy="680.3" r="2.1" stroke="#1c1c1c" stroke-width="1" fill="#444"/>
<circle cx="229.2" cy="693.2" r="2.1" stroke="#1c1c1c" stroke-width="1" fill="#444"/>
<circle cx="243.6" cy="693.2" r="2.1" stroke="#1c1c1c" stroke-width="1" fill="#444"/>
<path d="M185,718.2 H203 Q214,718.6 224,722.4 V743.6 Q214,746.2 203,746.6 H185 Z" stroke="#1c1c1c" stroke-width="1" fill="#fff" />
<path d="M288,718.2 H270 Q259,718.6 249,722.4 V743.6 Q259,746.2 270,746.6 H288 Z" stroke="#1c1c1c" stroke-width="1" fill="#fff" />
<path d="M209.7,719 V718 Q209.7,716.3 208,716.3 H180 Q176.3,716.3 176.3,720 V745.5 Q176.3,749.2 180,749.2 H208 Q209.7,749.2 209.7,747.5 V746.3" stroke="#1c1c1c" stroke-width="1.2" fill="none" />
<path d="M263.6,719 V718 Q263.6,716.3 265.3,716.3 H292.5 Q296.2,716.3 296.2,720 V745.5 Q296.2,749.2 292.5,749.2 H265.3 Q263.6,749.2 263.6,747.5 V746.3" stroke="#1c1c1c" stroke-width="1.2" fill="none" />
<line x1="181.5" y1="718" x2="181.5" y2="747.5" stroke="#1c1c1c" stroke-width="1" />
<line x1="184.5" y1="718.5" x2="184.5" y2="747" stroke="#1c1c1c" stroke-width="1" />
<line x1="291.5" y1="718" x2="291.5" y2="747.5" stroke="#1c1c1c" stroke-width="1" />
<line x1="287.5" y1="718.5" x2="287.5" y2="747" stroke="#1c1c1c" stroke-width="1" />
<path d="M229,720.4 H244 Q249.3,720.4 249.8,725.5 Q250.5,733.5 249.6,741.5 Q249,746.6 244,746.6 H229 Q224,746.6 223.4,741.5 Q222.5,733.5 223.2,725.5 Q223.7,720.4 229,720.4 Z" stroke="#1c1c1c" stroke-width="1.5" fill="#fff" />
<path d="M230.5,723.1 H242.5 Q246.6,723.1 247,727 Q247.6,733.5 246.9,740 Q246.4,744 242.5,744 H230.5 Q226.6,744 226.1,740 Q225.4,733.5 226,727 Q226.4,723.1 230.5,723.1 Z" stroke="#1c1c1c" stroke-width="1.3" fill="#fff" />
<path d="M229.2,746.6 L229.8,781 Q236.5,783.5 243.2,781 L244,746.6" stroke="#1c1c1c" stroke-width="1.1" fill="#fff" />
<path d="M229.8,781 L228.2,816.5 Q228.2,820.3 231.5,820.3 H241.8 Q245.2,820.3 245.2,816.5 L243.2,781" stroke="#1c1c1c" stroke-width="1.1" fill="#fff" />
<line x1="229" y1="818.5" x2="244.5" y2="818.5" stroke="#1c1c1c" stroke-width="0.8" />
<line x1="194.5" y1="709.5" x2="194.5" y2="753.5" stroke="#dfa878" stroke-width="0.7" />
<line x1="278.5" y1="709.5" x2="278.5" y2="753.5" stroke="#dfa878" stroke-width="0.7" />
<line x1="173" y1="732.5" x2="216" y2="732.5" stroke="#dfa878" stroke-width="0.7" />
<line x1="257" y1="732.5" x2="299" y2="732.5" stroke="#dfa878" stroke-width="0.7" />
<line x1="194.5" y1="756.7" x2="194.5" y2="843.5" stroke="#3a3a3a" stroke-width="0.7" />
<line x1="278.5" y1="756.7" x2="278.5" y2="843.5" stroke="#3a3a3a" stroke-width="0.7" />
<line x1="194.7" y1="840.5" x2="278.3" y2="840.5" stroke="#3a3a3a" stroke-width="0.7" />
<polygon points="194.70,840.50 203.70,838.80 203.70,842.20" fill="#111" stroke="none" stroke-width="0.6"/>
<polygon points="278.30,840.50 269.30,842.20 269.30,838.80" fill="#111" stroke="none" stroke-width="0.6"/>
<text x="237" y="838.3" style="font-family:&quot;Liberation Serif&quot;,serif" font-size="13" font-weight="normal" text-anchor="middle" fill="#222" textLength="39" lengthAdjust="spacingAndGlyphs" stroke="#222" stroke-width="0.4">150±15</text>
<line x1="446.5" y1="204" x2="446.5" y2="786" stroke="#9a9a9a" stroke-width="0.7" />
<line x1="438.3" y1="205.5" x2="446.5" y2="205.5" stroke="#ababab" stroke-width="0.55" />
<line x1="443.5" y1="205.0" x2="443.5" y2="209.4" stroke="#ababab" stroke-width="0.55" />
<line x1="438.3" y1="209.5" x2="446.5" y2="209.5" stroke="#ababab" stroke-width="0.55" />
<line x1="438.5" y1="209.4" x2="438.5" y2="213.8" stroke="#ababab" stroke-width="0.55" />
<line x1="438.3" y1="213.5" x2="446.5" y2="213.5" stroke="#ababab" stroke-width="0.55" />
<line x1="443.5" y1="213.8" x2="443.5" y2="218.2" stroke="#ababab" stroke-width="0.55" />
<line x1="438.3" y1="218.5" x2="446.5" y2="218.5" stroke="#ababab" stroke-width="0.55" />
<line x1="438.5" y1="218.2" x2="438.5" y2="222.6" stroke="#ababab" stroke-width="0.55" />
<line x1="438.3" y1="222.5" x2="446.5" y2="222.5" stroke="#ababab" stroke-width="0.55" />
<line x1="443.5" y1="222.6" x2="443.5" y2="227.0" stroke="#ababab" stroke-width="0.55" />
<line x1="438.3" y1="227.5" x2="446.5" y2="227.5" stroke="#ababab" stroke-width="0.55" />
<line x1="438.5" y1="227.0" x2="438.5" y2="231.4" stroke="#ababab" stroke-width="0.55" />
<line x1="438.3" y1="231.5" x2="446.5" y2="231.5" stroke="#ababab" stroke-width="0.55" />
<line x1="443.5" y1="231.4" x2="443.5" y2="235.8" stroke="#ababab" stroke-width="0.55" />
<line x1="438.3" y1="235.5" x2="446.5" y2="235.5" stroke="#ababab" stroke-width="0.55" />
<line x1="438.5" y1="235.8" x2="438.5" y2="240.2" stroke="#ababab" stroke-width="0.55" />
<line x1="438.3" y1="240.5" x2="446.5" y2="240.5" stroke="#ababab" stroke-width="0.55" />
<line x1="443.5" y1="240.2" x2="443.5" y2="244.6" stroke="#ababab" stroke-width="0.55" />
<line x1="438.3" y1="244.5" x2="446.5" y2="244.5" stroke="#ababab" stroke-width="0.55" />
<line x1="438.5" y1="244.6" x2="438.5" y2="249.0" stroke="#ababab" stroke-width="0.55" />
<line x1="438.3" y1="249.5" x2="446.5" y2="249.5" stroke="#ababab" stroke-width="0.55" />
<line x1="443.5" y1="249.0" x2="443.5" y2="253.4" stroke="#ababab" stroke-width="0.55" />
<line x1="438.3" y1="253.5" x2="446.5" y2="253.5" stroke="#ababab" stroke-width="0.55" />
<line x1="438.5" y1="253.4" x2="438.5" y2="257.8" stroke="#ababab" stroke-width="0.55" />
<line x1="438.3" y1="257.5" x2="446.5" y2="257.5" stroke="#ababab" stroke-width="0.55" />
<line x1="443.5" y1="257.8" x2="443.5" y2="262.2" stroke="#ababab" stroke-width="0.55" />
<line x1="438.3" y1="262.5" x2="446.5" y2="262.5" stroke="#ababab" stroke-width="0.55" />
<line x1="438.5" y1="262.2" x2="438.5" y2="266.6" stroke="#ababab" stroke-width="0.55" />
<line x1="438.3" y1="266.5" x2="446.5" y2="266.5" stroke="#ababab" stroke-width="0.55" />
<line x1="443.5" y1="266.6" x2="443.5" y2="271.0" stroke="#ababab" stroke-width="0.55" />
<line x1="438.3" y1="271.5" x2="446.5" y2="271.5" stroke="#ababab" stroke-width="0.55" />
<line x1="438.5" y1="271.0" x2="438.5" y2="275.4" stroke="#ababab" stroke-width="0.55" />
<line x1="438.3" y1="275.5" x2="446.5" y2="275.5" stroke="#ababab" stroke-width="0.55" />
<line x1="443.5" y1="275.4" x2="443.5" y2="279.8" stroke="#ababab" stroke-width="0.55" />
<line x1="438.3" y1="279.5" x2="446.5" y2="279.5" stroke="#ababab" stroke-width="0.55" />
<line x1="438.5" y1="279.8" x2="438.5" y2="284.2" stroke="#ababab" stroke-width="0.55" />
<line x1="438.3" y1="284.5" x2="446.5" y2="284.5" stroke="#ababab" stroke-width="0.55" />
<line x1="443.5" y1="284.2" x2="443.5" y2="288.6" stroke="#ababab" stroke-width="0.55" />
<line x1="438.3" y1="288.5" x2="446.5" y2="288.5" stroke="#ababab" stroke-width="0.55" />
<line x1="438.5" y1="288.6" x2="438.5" y2="293.0" stroke="#ababab" stroke-width="0.55" />
<line x1="438.3" y1="293.5" x2="446.5" y2="293.5" stroke="#ababab" stroke-width="0.55" />
<line x1="443.5" y1="293.0" x2="443.5" y2="297.4" stroke="#ababab" stroke-width="0.55" />
<line x1="438.3" y1="297.5" x2="446.5" y2="297.5" stroke="#ababab" stroke-width="0.55" />
<line x1="438.5" y1="297.4" x2="438.5" y2="301.8" stroke="#ababab" stroke-width="0.55" />
<line x1="438.3" y1="301.5" x2="446.5" y2="301.5" stroke="#ababab" stroke-width="0.55" />
<line x1="443.5" y1="301.8" x2="443.5" y2="306.2" stroke="#ababab" stroke-width="0.55" />
<line x1="438.3" y1="306.5" x2="446.5" y2="306.5" stroke="#ababab" stroke-width="0.55" />
<line x1="438.5" y1="306.2" x2="438.5" y2="310.6" stroke="#ababab" stroke-width="0.55" />
<line x1="438.3" y1="310.5" x2="446.5" y2="310.5" stroke="#ababab" stroke-width="0.55" />
<line x1="443.5" y1="310.6" x2="443.5" y2="315.0" stroke="#ababab" stroke-width="0.55" />
<line x1="438.3" y1="315.5" x2="446.5" y2="315.5" stroke="#ababab" stroke-width="0.55" />
<line x1="438.5" y1="315.0" x2="438.5" y2="319.4" stroke="#ababab" stroke-width="0.55" />
<line x1="438.3" y1="319.5" x2="446.5" y2="319.5" stroke="#ababab" stroke-width="0.55" />
<line x1="443.5" y1="319.4" x2="443.5" y2="323.8" stroke="#ababab" stroke-width="0.55" />
<line x1="438.3" y1="323.5" x2="446.5" y2="323.5" stroke="#ababab" stroke-width="0.55" />
<line x1="438.5" y1="323.8" x2="438.5" y2="328.2" stroke="#ababab" stroke-width="0.55" />
<line x1="438.3" y1="328.5" x2="446.5" y2="328.5" stroke="#ababab" stroke-width="0.55" />
<line x1="443.5" y1="328.2" x2="443.5" y2="332.6" stroke="#ababab" stroke-width="0.55" />
<line x1="438.3" y1="332.5" x2="446.5" y2="332.5" stroke="#ababab" stroke-width="0.55" />
<line x1="438.5" y1="332.6" x2="438.5" y2="337.0" stroke="#ababab" stroke-width="0.55" />
<line x1="438.3" y1="337.5" x2="446.5" y2="337.5" stroke="#ababab" stroke-width="0.55" />
<line x1="443.5" y1="337.0" x2="443.5" y2="341.4" stroke="#ababab" stroke-width="0.55" />
<line x1="438.3" y1="341.5" x2="446.5" y2="341.5" stroke="#ababab" stroke-width="0.55" />
<line x1="438.5" y1="341.4" x2="438.5" y2="345.8" stroke="#ababab" stroke-width="0.55" />
<line x1="438.3" y1="345.5" x2="446.5" y2="345.5" stroke="#ababab" stroke-width="0.55" />
<line x1="443.5" y1="345.8" x2="443.5" y2="350.2" stroke="#ababab" stroke-width="0.55" />
<line x1="438.3" y1="350.5" x2="446.5" y2="350.5" stroke="#ababab" stroke-width="0.55" />
<line x1="438.5" y1="350.2" x2="438.5" y2="354.6" stroke="#ababab" stroke-width="0.55" />
<line x1="438.3" y1="354.5" x2="446.5" y2="354.5" stroke="#ababab" stroke-width="0.55" />
<line x1="443.5" y1="354.6" x2="443.5" y2="359.0" stroke="#ababab" stroke-width="0.55" />
<line x1="438.3" y1="359.5" x2="446.5" y2="359.5" stroke="#ababab" stroke-width="0.55" />
<line x1="438.5" y1="359.0" x2="438.5" y2="363.4" stroke="#ababab" stroke-width="0.55" />
<line x1="438.3" y1="363.5" x2="446.5" y2="363.5" stroke="#ababab" stroke-width="0.55" />
<line x1="443.5" y1="363.4" x2="443.5" y2="367.8" stroke="#ababab" stroke-width="0.55" />
<line x1="438.3" y1="367.5" x2="446.5" y2="367.5" stroke="#ababab" stroke-width="0.55" />
<line x1="438.5" y1="367.8" x2="438.5" y2="372.2" stroke="#ababab" stroke-width="0.55" />
<line x1="438.3" y1="372.5" x2="446.5" y2="372.5" stroke="#ababab" stroke-width="0.55" />
<line x1="443.5" y1="372.2" x2="443.5" y2="376.6" stroke="#ababab" stroke-width="0.55" />
<line x1="438.3" y1="376.5" x2="446.5" y2="376.5" stroke="#ababab" stroke-width="0.55" />
<line x1="438.5" y1="376.6" x2="438.5" y2="381.0" stroke="#ababab" stroke-width="0.55" />
<line x1="438.3" y1="381.5" x2="446.5" y2="381.5" stroke="#ababab" stroke-width="0.55" />
<line x1="443.5" y1="381.0" x2="443.5" y2="385.4" stroke="#ababab" stroke-width="0.55" />
<line x1="438.3" y1="385.5" x2="446.5" y2="385.5" stroke="#ababab" stroke-width="0.55" />
<line x1="438.5" y1="385.4" x2="438.5" y2="389.8" stroke="#ababab" stroke-width="0.55" />
<line x1="438.3" y1="389.5" x2="446.5" y2="389.5" stroke="#ababab" stroke-width="0.55" />
<line x1="443.5" y1="389.8" x2="443.5" y2="394.2" stroke="#ababab" stroke-width="0.55" />
<line x1="438.3" y1="394.5" x2="446.5" y2="394.5" stroke="#ababab" stroke-width="0.55" />
<line x1="438.5" y1="394.2" x2="438.5" y2="398.6" stroke="#ababab" stroke-width="0.55" />
<line x1="438.3" y1="398.5" x2="446.5" y2="398.5" stroke="#ababab" stroke-width="0.55" />
<line x1="443.5" y1="398.6" x2="443.5" y2="403.0" stroke="#ababab" stroke-width="0.55" />
<line x1="438.3" y1="403.5" x2="446.5" y2="403.5" stroke="#ababab" stroke-width="0.55" />
<line x1="438.5" y1="403.0" x2="438.5" y2="407.4" stroke="#ababab" stroke-width="0.55" />
<line x1="438.3" y1="407.5" x2="446.5" y2="407.5" stroke="#ababab" stroke-width="0.55" />
<line x1="443.5" y1="407.4" x2="443.5" y2="411.8" stroke="#ababab" stroke-width="0.55" />
<line x1="438.3" y1="411.5" x2="446.5" y2="411.5" stroke="#ababab" stroke-width="0.55" />
<line x1="438.5" y1="411.8" x2="438.5" y2="416.2" stroke="#ababab" stroke-width="0.55" />
<line x1="438.3" y1="416.5" x2="446.5" y2="416.5" stroke="#ababab" stroke-width="0.55" />
<line x1="443.5" y1="416.2" x2="443.5" y2="420.6" stroke="#ababab" stroke-width="0.55" />
<line x1="438.3" y1="420.5" x2="446.5" y2="420.5" stroke="#ababab" stroke-width="0.55" />
<line x1="438.5" y1="420.6" x2="438.5" y2="425.0" stroke="#ababab" stroke-width="0.55" />
<line x1="438.3" y1="425.5" x2="446.5" y2="425.5" stroke="#ababab" stroke-width="0.55" />
<line x1="443.5" y1="425.0" x2="443.5" y2="429.4" stroke="#ababab" stroke-width="0.55" />
<line x1="438.3" y1="429.5" x2="446.5" y2="429.5" stroke="#ababab" stroke-width="0.55" />
<line x1="438.5" y1="429.4" x2="438.5" y2="433.8" stroke="#ababab" stroke-width="0.55" />
<line x1="438.3" y1="433.5" x2="446.5" y2="433.5" stroke="#ababab" stroke-width="0.55" />
<line x1="443.5" y1="433.8" x2="443.5" y2="438.2" stroke="#ababab" stroke-width="0.55" />
<line x1="438.3" y1="438.5" x2="446.5" y2="438.5" stroke="#ababab" stroke-width="0.55" />
<line x1="438.5" y1="438.2" x2="438.5" y2="442.6" stroke="#ababab" stroke-width="0.55" />
<line x1="438.3" y1="442.5" x2="446.5" y2="442.5" stroke="#ababab" stroke-width="0.55" />
<line x1="443.5" y1="442.6" x2="443.5" y2="447.0" stroke="#ababab" stroke-width="0.55" />
<line x1="438.3" y1="447.5" x2="446.5" y2="447.5" stroke="#ababab" stroke-width="0.55" />
<line x1="438.5" y1="447.0" x2="438.5" y2="451.4" stroke="#ababab" stroke-width="0.55" />
<line x1="438.3" y1="451.5" x2="446.5" y2="451.5" stroke="#ababab" stroke-width="0.55" />
<line x1="443.5" y1="451.4" x2="443.5" y2="455.8" stroke="#ababab" stroke-width="0.55" />
<line x1="438.3" y1="455.5" x2="446.5" y2="455.5" stroke="#ababab" stroke-width="0.55" />
<line x1="438.5" y1="455.8" x2="438.5" y2="460.2" stroke="#ababab" stroke-width="0.55" />
<line x1="438.3" y1="460.5" x2="446.5" y2="460.5" stroke="#ababab" stroke-width="0.55" />
<line x1="443.5" y1="460.2" x2="443.5" y2="464.6" stroke="#ababab" stroke-width="0.55" />
<line x1="438.3" y1="464.5" x2="446.5" y2="464.5" stroke="#ababab" stroke-width="0.55" />
<line x1="438.5" y1="464.6" x2="438.5" y2="469.0" stroke="#ababab" stroke-width="0.55" />
<line x1="438.3" y1="469.5" x2="446.5" y2="469.5" stroke="#ababab" stroke-width="0.55" />
<line x1="443.5" y1="469.0" x2="443.5" y2="473.4" stroke="#ababab" stroke-width="0.55" />
<line x1="438.3" y1="473.5" x2="446.5" y2="473.5" stroke="#ababab" stroke-width="0.55" />
<line x1="438.5" y1="473.4" x2="438.5" y2="477.8" stroke="#ababab" stroke-width="0.55" />
<line x1="438.3" y1="477.5" x2="446.5" y2="477.5" stroke="#ababab" stroke-width="0.55" />
<line x1="443.5" y1="477.8" x2="443.5" y2="482.2" stroke="#ababab" stroke-width="0.55" />
<line x1="438.3" y1="482.5" x2="446.5" y2="482.5" stroke="#ababab" stroke-width="0.55" />
<line x1="438.5" y1="482.2" x2="438.5" y2="486.6" stroke="#ababab" stroke-width="0.55" />
<line x1="438.3" y1="486.5" x2="446.5" y2="486.5" stroke="#ababab" stroke-width="0.55" />
<line x1="443.5" y1="486.6" x2="443.5" y2="491.0" stroke="#ababab" stroke-width="0.55" />
<line x1="438.3" y1="491.5" x2="446.5" y2="491.5" stroke="#ababab" stroke-width="0.55" />
<line x1="438.5" y1="491.0" x2="438.5" y2="495.4" stroke="#ababab" stroke-width="0.55" />
<line x1="438.3" y1="495.5" x2="446.5" y2="495.5" stroke="#ababab" stroke-width="0.55" />
<line x1="443.5" y1="495.4" x2="443.5" y2="499.8" stroke="#ababab" stroke-width="0.55" />
<line x1="438.3" y1="499.5" x2="446.5" y2="499.5" stroke="#ababab" stroke-width="0.55" />
<line x1="438.5" y1="499.8" x2="438.5" y2="504.2" stroke="#ababab" stroke-width="0.55" />
<line x1="438.3" y1="504.5" x2="446.5" y2="504.5" stroke="#ababab" stroke-width="0.55" />
<line x1="443.5" y1="504.2" x2="443.5" y2="508.6" stroke="#ababab" stroke-width="0.55" />
<line x1="438.3" y1="508.5" x2="446.5" y2="508.5" stroke="#ababab" stroke-width="0.55" />
<line x1="438.5" y1="508.6" x2="438.5" y2="513.0" stroke="#ababab" stroke-width="0.55" />
<line x1="438.3" y1="513.5" x2="446.5" y2="513.5" stroke="#ababab" stroke-width="0.55" />
<line x1="443.5" y1="513.0" x2="443.5" y2="517.4" stroke="#ababab" stroke-width="0.55" />
<line x1="438.3" y1="517.5" x2="446.5" y2="517.5" stroke="#ababab" stroke-width="0.55" />
<line x1="438.5" y1="517.4" x2="438.5" y2="521.8" stroke="#ababab" stroke-width="0.55" />
<line x1="438.3" y1="521.5" x2="446.5" y2="521.5" stroke="#ababab" stroke-width="0.55" />
<line x1="443.5" y1="521.8" x2="443.5" y2="526.2" stroke="#ababab" stroke-width="0.55" />
<line x1="438.3" y1="526.5" x2="446.5" y2="526.5" stroke="#ababab" stroke-width="0.55" />
<line x1="438.5" y1="526.2" x2="438.5" y2="530.6" stroke="#ababab" stroke-width="0.55" />
<line x1="438.3" y1="530.5" x2="446.5" y2="530.5" stroke="#ababab" stroke-width="0.55" />
<line x1="443.5" y1="530.6" x2="443.5" y2="535.0" stroke="#ababab" stroke-width="0.55" />
<line x1="438.3" y1="535.5" x2="446.5" y2="535.5" stroke="#ababab" stroke-width="0.55" />
<line x1="438.5" y1="535.0" x2="438.5" y2="539.4" stroke="#ababab" stroke-width="0.55" />
<line x1="438.3" y1="539.5" x2="446.5" y2="539.5" stroke="#ababab" stroke-width="0.55" />
<line x1="443.5" y1="539.4" x2="443.5" y2="543.8" stroke="#ababab" stroke-width="0.55" />
<line x1="438.3" y1="543.5" x2="446.5" y2="543.5" stroke="#ababab" stroke-width="0.55" />
<line x1="438.5" y1="543.8" x2="438.5" y2="548.2" stroke="#ababab" stroke-width="0.55" />
<line x1="438.3" y1="548.5" x2="446.5" y2="548.5" stroke="#ababab" stroke-width="0.55" />
<line x1="443.5" y1="548.2" x2="443.5" y2="552.6" stroke="#ababab" stroke-width="0.55" />
<line x1="438.3" y1="552.5" x2="446.5" y2="552.5" stroke="#ababab" stroke-width="0.55" />
<line x1="438.5" y1="552.6" x2="438.5" y2="557.0" stroke="#ababab" stroke-width="0.55" />
<line x1="438.3" y1="557.5" x2="446.5" y2="557.5" stroke="#ababab" stroke-width="0.55" />
<line x1="443.5" y1="557.0" x2="443.5" y2="561.4" stroke="#ababab" stroke-width="0.55" />
<line x1="438.3" y1="561.5" x2="446.5" y2="561.5" stroke="#ababab" stroke-width="0.55" />
<line x1="438.5" y1="561.4" x2="438.5" y2="565.8" stroke="#ababab" stroke-width="0.55" />
<line x1="438.3" y1="565.5" x2="446.5" y2="565.5" stroke="#ababab" stroke-width="0.55" />
<line x1="443.5" y1="565.8" x2="443.5" y2="570.2" stroke="#ababab" stroke-width="0.55" />
<line x1="438.3" y1="570.5" x2="446.5" y2="570.5" stroke="#ababab" stroke-width="0.55" />
<line x1="438.5" y1="570.2" x2="438.5" y2="574.6" stroke="#ababab" stroke-width="0.55" />
<line x1="438.3" y1="574.5" x2="446.5" y2="574.5" stroke="#ababab" stroke-width="0.55" />
<line x1="443.5" y1="574.6" x2="443.5" y2="579.0" stroke="#ababab" stroke-width="0.55" />
<line x1="438.3" y1="579.5" x2="446.5" y2="579.5" stroke="#ababab" stroke-width="0.55" />
<line x1="438.5" y1="579.0" x2="438.5" y2="583.4" stroke="#ababab" stroke-width="0.55" />
<line x1="438.3" y1="583.5" x2="446.5" y2="583.5" stroke="#ababab" stroke-width="0.55" />
<line x1="443.5" y1="583.4" x2="443.5" y2="587.8" stroke="#ababab" stroke-width="0.55" />
<line x1="438.3" y1="587.5" x2="446.5" y2="587.5" stroke="#ababab" stroke-width="0.55" />
<line x1="438.5" y1="587.8" x2="438.5" y2="592.2" stroke="#ababab" stroke-width="0.55" />
<line x1="438.3" y1="592.5" x2="446.5" y2="592.5" stroke="#ababab" stroke-width="0.55" />
<line x1="443.5" y1="592.2" x2="443.5" y2="596.6" stroke="#ababab" stroke-width="0.55" />
<line x1="438.3" y1="596.5" x2="446.5" y2="596.5" stroke="#ababab" stroke-width="0.55" />
<line x1="438.5" y1="596.6" x2="438.5" y2="601.0" stroke="#ababab" stroke-width="0.55" />
<line x1="438.3" y1="601.5" x2="446.5" y2="601.5" stroke="#ababab" stroke-width="0.55" />
<line x1="443.5" y1="601.0" x2="443.5" y2="605.4" stroke="#ababab" stroke-width="0.55" />
<line x1="438.3" y1="605.5" x2="446.5" y2="605.5" stroke="#ababab" stroke-width="0.55" />
<line x1="438.5" y1="605.4" x2="438.5" y2="609.8" stroke="#ababab" stroke-width="0.55" />
<line x1="438.3" y1="609.5" x2="446.5" y2="609.5" stroke="#ababab" stroke-width="0.55" />
<line x1="443.5" y1="609.8" x2="443.5" y2="614.2" stroke="#ababab" stroke-width="0.55" />
<line x1="438.3" y1="614.5" x2="446.5" y2="614.5" stroke="#ababab" stroke-width="0.55" />
<line x1="438.5" y1="614.2" x2="438.5" y2="618.6" stroke="#ababab" stroke-width="0.55" />
<line x1="438.3" y1="618.5" x2="446.5" y2="618.5" stroke="#ababab" stroke-width="0.55" />
<line x1="443.5" y1="618.6" x2="443.5" y2="623.0" stroke="#ababab" stroke-width="0.55" />
<line x1="438.3" y1="623.5" x2="446.5" y2="623.5" stroke="#ababab" stroke-width="0.55" />
<line x1="438.5" y1="623.0" x2="438.5" y2="627.4" stroke="#ababab" stroke-width="0.55" />
<line x1="438.3" y1="627.5" x2="446.5" y2="627.5" stroke="#ababab" stroke-width="0.55" />
<line x1="443.5" y1="627.4" x2="443.5" y2="631.8" stroke="#ababab" stroke-width="0.55" />
<line x1="438.3" y1="631.5" x2="446.5" y2="631.5" stroke="#ababab" stroke-width="0.55" />
<line x1="438.5" y1="631.8" x2="438.5" y2="636.2" stroke="#ababab" stroke-width="0.55" />
<line x1="438.3" y1="636.5" x2="446.5" y2="636.5" stroke="#ababab" stroke-width="0.55" />
<line x1="443.5" y1="636.2" x2="443.5" y2="640.6" stroke="#ababab" stroke-width="0.55" />
<line x1="438.3" y1="640.5" x2="446.5" y2="640.5" stroke="#ababab" stroke-width="0.55" />
<line x1="438.5" y1="640.6" x2="438.5" y2="645.0" stroke="#ababab" stroke-width="0.55" />
<line x1="438.3" y1="645.5" x2="446.5" y2="645.5" stroke="#ababab" stroke-width="0.55" />
<line x1="443.5" y1="645.0" x2="443.5" y2="649.4" stroke="#ababab" stroke-width="0.55" />
<line x1="438.3" y1="649.5" x2="446.5" y2="649.5" stroke="#ababab" stroke-width="0.55" />
<line x1="438.5" y1="649.4" x2="438.5" y2="653.8" stroke="#ababab" stroke-width="0.55" />
<line x1="438.3" y1="653.5" x2="446.5" y2="653.5" stroke="#ababab" stroke-width="0.55" />
<line x1="443.5" y1="653.8" x2="443.5" y2="658.2" stroke="#ababab" stroke-width="0.55" />
<line x1="438.3" y1="658.5" x2="446.5" y2="658.5" stroke="#ababab" stroke-width="0.55" />
<line x1="438.5" y1="658.2" x2="438.5" y2="662.6" stroke="#ababab" stroke-width="0.55" />
<line x1="438.3" y1="662.5" x2="446.5" y2="662.5" stroke="#ababab" stroke-width="0.55" />
<line x1="443.5" y1="662.6" x2="443.5" y2="667.0" stroke="#ababab" stroke-width="0.55" />
<line x1="438.3" y1="667.5" x2="446.5" y2="667.5" stroke="#ababab" stroke-width="0.55" />
<line x1="438.5" y1="667.0" x2="438.5" y2="671.4" stroke="#ababab" stroke-width="0.55" />
<line x1="438.3" y1="671.5" x2="446.5" y2="671.5" stroke="#ababab" stroke-width="0.55" />
<line x1="443.5" y1="671.4" x2="443.5" y2="675.8" stroke="#ababab" stroke-width="0.55" />
<line x1="438.3" y1="675.5" x2="446.5" y2="675.5" stroke="#ababab" stroke-width="0.55" />
<line x1="438.5" y1="675.8" x2="438.5" y2="680.2" stroke="#ababab" stroke-width="0.55" />
<line x1="438.3" y1="680.5" x2="446.5" y2="680.5" stroke="#ababab" stroke-width="0.55" />
<line x1="443.5" y1="680.2" x2="443.5" y2="684.6" stroke="#ababab" stroke-width="0.55" />
<line x1="438.3" y1="684.5" x2="446.5" y2="684.5" stroke="#ababab" stroke-width="0.55" />
<line x1="438.5" y1="684.6" x2="438.5" y2="689.0" stroke="#ababab" stroke-width="0.55" />
<line x1="438.3" y1="689.5" x2="446.5" y2="689.5" stroke="#ababab" stroke-width="0.55" />
<line x1="443.5" y1="689.0" x2="443.5" y2="693.4" stroke="#ababab" stroke-width="0.55" />
<line x1="438.3" y1="693.5" x2="446.5" y2="693.5" stroke="#ababab" stroke-width="0.55" />
<line x1="438.5" y1="693.4" x2="438.5" y2="697.8" stroke="#ababab" stroke-width="0.55" />
<line x1="438.3" y1="697.5" x2="446.5" y2="697.5" stroke="#ababab" stroke-width="0.55" />
<line x1="443.5" y1="697.8" x2="443.5" y2="702.2" stroke="#ababab" stroke-width="0.55" />
<line x1="438.3" y1="702.5" x2="446.5" y2="702.5" stroke="#ababab" stroke-width="0.55" />
<line x1="438.5" y1="702.2" x2="438.5" y2="706.6" stroke="#ababab" stroke-width="0.55" />
<line x1="438.3" y1="706.5" x2="446.5" y2="706.5" stroke="#ababab" stroke-width="0.55" />
<line x1="443.5" y1="706.6" x2="443.5" y2="711.0" stroke="#ababab" stroke-width="0.55" />
<line x1="438.3" y1="711.5" x2="446.5" y2="711.5" stroke="#ababab" stroke-width="0.55" />
<line x1="438.5" y1="711.0" x2="438.5" y2="715.4" stroke="#ababab" stroke-width="0.55" />
<line x1="438.3" y1="715.5" x2="446.5" y2="715.5" stroke="#ababab" stroke-width="0.55" />
<line x1="443.5" y1="715.4" x2="443.5" y2="719.8" stroke="#ababab" stroke-width="0.55" />
<line x1="438.3" y1="719.5" x2="446.5" y2="719.5" stroke="#ababab" stroke-width="0.55" />
<line x1="438.5" y1="719.8" x2="438.5" y2="724.2" stroke="#ababab" stroke-width="0.55" />
<line x1="438.3" y1="724.5" x2="446.5" y2="724.5" stroke="#ababab" stroke-width="0.55" />
<line x1="443.5" y1="724.2" x2="443.5" y2="728.6" stroke="#ababab" stroke-width="0.55" />
<line x1="438.3" y1="728.5" x2="446.5" y2="728.5" stroke="#ababab" stroke-width="0.55" />
<line x1="438.5" y1="728.6" x2="438.5" y2="733.0" stroke="#ababab" stroke-width="0.55" />
<line x1="438.3" y1="733.5" x2="446.5" y2="733.5" stroke="#ababab" stroke-width="0.55" />
<line x1="443.5" y1="733.0" x2="443.5" y2="737.4" stroke="#ababab" stroke-width="0.55" />
<line x1="438.3" y1="737.5" x2="446.5" y2="737.5" stroke="#ababab" stroke-width="0.55" />
<line x1="438.5" y1="737.4" x2="438.5" y2="741.8" stroke="#ababab" stroke-width="0.55" />
<line x1="438.3" y1="741.5" x2="446.5" y2="741.5" stroke="#ababab" stroke-width="0.55" />
<line x1="443.5" y1="741.8" x2="443.5" y2="746.2" stroke="#ababab" stroke-width="0.55" />
<line x1="438.3" y1="746.5" x2="446.5" y2="746.5" stroke="#ababab" stroke-width="0.55" />
<line x1="438.5" y1="746.2" x2="438.5" y2="750.6" stroke="#ababab" stroke-width="0.55" />
<line x1="438.3" y1="750.5" x2="446.5" y2="750.5" stroke="#ababab" stroke-width="0.55" />
<line x1="443.5" y1="750.6" x2="443.5" y2="755.0" stroke="#ababab" stroke-width="0.55" />
<line x1="438.3" y1="755.5" x2="446.5" y2="755.5" stroke="#ababab" stroke-width="0.55" />
<line x1="438.5" y1="755.0" x2="438.5" y2="759.4" stroke="#ababab" stroke-width="0.55" />
<line x1="438.3" y1="759.5" x2="446.5" y2="759.5" stroke="#ababab" stroke-width="0.55" />
<line x1="443.5" y1="759.4" x2="443.5" y2="763.8" stroke="#ababab" stroke-width="0.55" />
<line x1="438.3" y1="763.5" x2="446.5" y2="763.5" stroke="#ababab" stroke-width="0.55" />
<line x1="438.5" y1="763.8" x2="438.5" y2="768.2" stroke="#ababab" stroke-width="0.55" />
<line x1="438.3" y1="768.5" x2="446.5" y2="768.5" stroke="#ababab" stroke-width="0.55" />
<line x1="443.5" y1="768.2" x2="443.5" y2="772.6" stroke="#ababab" stroke-width="0.55" />
<line x1="438.3" y1="772.5" x2="446.5" y2="772.5" stroke="#ababab" stroke-width="0.55" />
<line x1="438.5" y1="772.6" x2="438.5" y2="777.0" stroke="#ababab" stroke-width="0.55" />
<line x1="438.3" y1="777.5" x2="446.5" y2="777.5" stroke="#ababab" stroke-width="0.55" />
<line x1="443.5" y1="777.0" x2="443.5" y2="781.4" stroke="#ababab" stroke-width="0.55" />
<line x1="438.3" y1="781.5" x2="446.5" y2="781.5" stroke="#ababab" stroke-width="0.55" />
<line x1="438.5" y1="781.4" x2="438.5" y2="785.8" stroke="#ababab" stroke-width="0.55" />
<line x1="438.3" y1="785.5" x2="446.5" y2="785.5" stroke="#ababab" stroke-width="0.55" />
<line x1="443.5" y1="785.8" x2="443.5" y2="786" stroke="#ababab" stroke-width="0.55" />
<line x1="390.5" y1="27.4" x2="390.5" y2="733.6" stroke="#3a3a3a" stroke-width="0.8" />
<line x1="385.6" y1="27.5" x2="501" y2="27.5" stroke="#3a3a3a" stroke-width="0.7" />
<polygon points="390.50,27.40 392.30,36.40 388.70,36.40" fill="#111" stroke="none" stroke-width="0.6"/>
<polygon points="390.50,279.40 388.70,270.40 392.30,270.40" fill="#111" stroke="none" stroke-width="0.6"/>
<polygon points="390.50,279.40 392.30,288.40 388.70,288.40" fill="#111" stroke="none" stroke-width="0.6"/>
<polygon points="390.50,733.60 388.70,724.60 392.30,724.60" fill="#111" stroke="none" stroke-width="0.6"/>
<line x1="385" y1="279.5" x2="406" y2="279.5" stroke="#666" stroke-width="0.7" />
<line x1="386.7" y1="733.5" x2="427" y2="733.5" stroke="#666" stroke-width="0.7" />
<text x="388.2" y="155.5" style="font-family:&quot;Liberation Sans&quot;,serif" font-size="14.5" font-weight="normal" text-anchor="middle" fill="#222" transform="rotate(-90 388.2 155.5)" textLength="38" lengthAdjust="spacingAndGlyphs" stroke="#222" stroke-width="0.45">65–750</text>
<text x="388" y="501.5" style="font-family:&quot;Liberation Serif&quot;,serif" font-size="13.5" font-weight="normal" text-anchor="middle" fill="#222" transform="rotate(-90 388 501.5)" textLength="37" lengthAdjust="spacingAndGlyphs" stroke="#222" stroke-width="0.3">940 ±5</text>
<line x1="484.5" y1="9" x2="484.5" y2="22" stroke="#777" stroke-width="0.8" />
<line x1="484.5" y1="35" x2="484.5" y2="62" stroke="#8a8a8a" stroke-width="0.8" />
<line x1="675.5" y1="9" x2="675.5" y2="84" stroke="#3a3a3a" stroke-width="0.7" />
<line x1="484" y1="14.5" x2="675.6" y2="14.5" stroke="#3a3a3a" stroke-width="0.7" />
<polygon points="484.00,14.50 493.00,12.70 493.00,16.30" fill="#111" stroke="none" stroke-width="0.6"/>
<polygon points="675.60,14.50 666.60,16.30 666.60,12.70" fill="#111" stroke="none" stroke-width="0.6"/>
<text x="580" y="11.5" style="font-family:&quot;Liberation Serif&quot;,serif" font-size="13" font-weight="normal" text-anchor="middle" fill="#222" textLength="33" lengthAdjust="spacingAndGlyphs" >350±3</text>
<path d="M477.6,664 V59 A31,31 0 0 1 509,28 H644 C656,28 664,34 669,42 C673,49 676,58 679,74" stroke="#303030" stroke-width="0.95" fill="none" />
<path d="M490.6,664 V60 A20,20 0 0 1 510.6,40 H640 C650,40 657,45 661,53 C664.5,60 666.5,68 668.4,77.3" stroke="#303030" stroke-width="0.95" fill="none" />
<line x1="484.5" y1="32" x2="484.5" y2="664" stroke="#d8cfc8" stroke-width="0.9" stroke-dasharray="9 2.5"/>
<path d="M668.4,77.3 L679,74 L681.8,83.4 L670.6,86.2 Z" stroke="#1c1c1c" stroke-width="1.1" fill="#fff" />
<path d="M671.8,86 L672.8,90.4 L682.2,88 L681.2,83.8" stroke="#1c1c1c" stroke-width="1" fill="#fff" />
<path d="M647.5,107.3 C654,104.5 659,100.5 663.4,95.2 C666,92.3 669,91.2 672,90.6 L683.6,88.2 C687,87 690,86.8 693,88 C698,90.2 704,91 709.6,90 L718,88.6" stroke="#1c1c1c" stroke-width="1" fill="#fff" />
<path d="M631.6,111.5 L727.7,86 L729.4,92.7 L633.3,118.8 Z" stroke="#1c1c1c" stroke-width="1" fill="#fff" />
<path d="M631.9,112.3 L727.9,86.8" stroke="#1c1c1c" stroke-width="1.5" fill="none" />
<path d="M633.2,118.3 L729.3,92.2" stroke="#1c1c1c" stroke-width="1.3" fill="none" />
<line x1="668.4" y1="58" x2="683.6" y2="114.4" stroke="#e2b78c" stroke-width="0.8" stroke-dasharray="22 8"/>
<line x1="631.6" y1="112" x2="643.6" y2="154" stroke="#3a3a3a" stroke-width="0.7" />
<line x1="729" y1="91" x2="740" y2="127.4" stroke="#3a3a3a" stroke-width="0.7" />
<line x1="642" y1="148.6" x2="738" y2="122.4" stroke="#3a3a3a" stroke-width="0.7" />
<polygon points="642.00,148.60 650.23,144.53 651.16,148.01" fill="#111" stroke="none" stroke-width="0.6"/>
<polygon points="738.00,122.40 729.77,126.47 728.84,122.99" fill="#111" stroke="none" stroke-width="0.6"/>
<text x="688" y="131.8" style="font-family:&quot;Liberation Sans&quot;,serif" font-size="12.5" font-weight="normal" text-anchor="middle" fill="#222" transform="rotate(-15 688 131.8)" textLength="19" lengthAdjust="spacingAndGlyphs" >200</text>
<line x1="406.6" y1="194.5" x2="478" y2="194.5" stroke="#3a3a3a" stroke-width="0.7" />
<line x1="446.5" y1="190" x2="446.5" y2="204" stroke="#3a3a3a" stroke-width="0.7" />
<polygon points="446.70,194.50 455.70,192.80 455.70,196.20" fill="#111" stroke="none" stroke-width="0.6"/>
<polygon points="478.00,194.50 469.00,196.20 469.00,192.80" fill="#111" stroke="none" stroke-width="0.6"/>
<text x="422.3" y="191.7" style="font-family:&quot;Liberation Serif&quot;,serif" font-size="13" font-weight="normal" text-anchor="middle" fill="#222" >54</text>
<line x1="406" y1="279.5" x2="490" y2="279.5" stroke="#dfa878" stroke-width="0.7" />
<rect x="447" y="263" width="6" height="32.6" rx="1.5" stroke="#1c1c1c" stroke-width="1" fill="#fff" />
<path d="M453,275.4 H477 M453,285.4 H477 M476.6,275.4 Q479.2,280.4 476.6,285.4" stroke="#1c1c1c" stroke-width="1" fill="none" />
<line x1="453" y1="277.5" x2="476" y2="277.5" stroke="#999" stroke-width="0.6" />
<line x1="453" y1="283.5" x2="476" y2="283.5" stroke="#999" stroke-width="0.6" />
<rect x="476.6" y="267.4" width="15.0" height="26.6" rx="0" stroke="#1c1c1c" stroke-width="1" fill="#fff" />
<line x1="484.5" y1="267.4" x2="484.5" y2="294" stroke="#d8cfc8" stroke-width="0.9" stroke-dasharray="9 2.5"/>
<path d="M426,279.4 L432,278.3 L436.3,276.6 L437.6,278.2 L441.6,276.8 L443,278.3 L447,278.2 V280.6 L443,280.5 L441.6,282 L437.6,280.6 L436.3,282.2 L432,280.5 Z" stroke="#222" stroke-width="0.5" fill="#444" />
<line x1="405.6" y1="263.5" x2="447" y2="263.5" stroke="#3a3a3a" stroke-width="0.7" />
<line x1="405.6" y1="295.5" x2="447" y2="295.5" stroke="#3a3a3a" stroke-width="0.7" />
<line x1="411.5" y1="263" x2="411.5" y2="295.6" stroke="#3a3a3a" stroke-width="0.7" />
<polygon points="411.50,263.00 413.20,272.00 409.80,272.00" fill="#111" stroke="none" stroke-width="0.6"/>
<polygon points="411.50,295.60 409.80,286.60 413.20,286.60" fill="#111" stroke="none" stroke-width="0.6"/>
<g transform="rotate(-90 404.8 320.5)"><ellipse cx="404.8" cy="320.5" rx="4.3" ry="4.085" fill="none" stroke="#222" stroke-width="1.1"/><line x1="400.71500000000003" y1="326.735" x2="409.315" y2="314.05" stroke="#222" stroke-width="1.1"/></g>
<text x="409.5" y="314.5" style="font-family:&quot;Liberation Serif&quot;,serif" font-size="14" font-weight="normal" text-anchor="start" fill="#222" transform="rotate(-90 409.5 314.5)" >60</text>
<path d="M497.6,302.7 L502.7,304.7 L492.2,343 L494,354 L492.3,353.6 L491,343" stroke="#1c1c1c" stroke-width="1.1" fill="none" />
<path d="M497.6,302.7 Q493,306 491,311.5 M497.4,303.5 L491.3,327" stroke="#1c1c1c" stroke-width="1" fill="none" />
<rect x="480" y="426.4" width="8.3" height="6.6" rx="1.2" stroke="#1c1c1c" stroke-width="1" fill="#fff" />
<circle cx="484.3" cy="441.6" r="10.4" stroke="#1c1c1c" stroke-width="1.5" fill="#fff"/>
<line x1="484.5" y1="431" x2="484.5" y2="452" stroke="#d8cfc8" stroke-width="0.9" stroke-dasharray="5 2.5"/>
<rect x="472.5" y="600" width="23.8" height="10" rx="0" stroke="#666" stroke-width="0.9" fill="#fff" />
<path d="M468.7,593.3 H547.2" stroke="#1c1c1c" stroke-width="1.2" fill="none" />
<rect x="472.5" y="593.3" width="24.5" height="6.7" rx="0" stroke="none" stroke-width="0" fill="#fff" />
<path d="M472.5,596 H542.5 M472.5,596 V600 H539 Q543,600 543,596" stroke="#1c1c1c" stroke-width="0.9" fill="none" />
<rect x="471.7" y="591.8" width="25.0" height="1.8" rx="0" stroke="#333" stroke-width="0.5" fill="#333" />
<line x1="484.5" y1="600" x2="484.5" y2="610" stroke="#d8cfc8" stroke-width="0.9" />
<line x1="496.3" y1="610.5" x2="592.5" y2="610.5" stroke="#3a3a3a" stroke-width="0.7" />
<line x1="550" y1="593.5" x2="593" y2="593.5" stroke="#3a3a3a" stroke-width="0.7" />
<line x1="551" y1="600.5" x2="576" y2="600.5" stroke="#3a3a3a" stroke-width="0.7" />
<line x1="570.5" y1="560" x2="570.5" y2="605" stroke="#3a3a3a" stroke-width="0.7" />
<polygon points="570.50,593.30 569.30,587.30 571.70,587.30" fill="#111" stroke="none" stroke-width="0.6"/>
<polygon points="570.50,600.00 571.70,606.00 569.30,606.00" fill="#111" stroke="none" stroke-width="0.6"/>
<text x="567.5" y="575" style="font-family:&quot;Liberation Serif&quot;,serif" font-size="12.5" font-weight="normal" text-anchor="middle" fill="#222" transform="rotate(-90 567.5 575)" textLength="20" lengthAdjust="spacingAndGlyphs" >11.6</text>
<line x1="584.5" y1="591" x2="584.5" y2="638" stroke="#3a3a3a" stroke-width="0.7" />
<text x="582.5" y="628" style="font-family:&quot;Liberation Serif&quot;,serif" font-size="12.5" font-weight="normal" text-anchor="middle" fill="#222" transform="rotate(-90 582.5 628)" textLength="20" lengthAdjust="spacingAndGlyphs" >18.3</text>
<line x1="468.5" y1="593.3" x2="468.5" y2="635" stroke="#3a3a3a" stroke-width="0.7" />
<line x1="547.5" y1="593.3" x2="547.5" y2="635" stroke="#3a3a3a" stroke-width="0.7" />
<line x1="468.7" y1="632.5" x2="547.2" y2="632.5" stroke="#3a3a3a" stroke-width="0.7" />
<polygon points="468.70,632.50 475.70,631.20 475.70,633.80" fill="#111" stroke="none" stroke-width="0.6"/>
<polygon points="547.20,632.50 540.20,633.80 540.20,631.20" fill="#111" stroke="none" stroke-width="0.6"/>
<text x="502.3" y="630.3" style="font-family:&quot;Liberation Serif&quot;,serif" font-size="13" font-weight="normal" text-anchor="middle" fill="#222" textLength="15" lengthAdjust="spacingAndGlyphs" >135</text>
<rect x="474.2" y="665" width="19.1" height="9.2" rx="0.8" stroke="#1c1c1c" stroke-width="1.1" fill="#fff" />
<line x1="480.5" y1="665" x2="480.5" y2="674.2" stroke="#1c1c1c" stroke-width="0.9" />
<line x1="487.5" y1="665" x2="487.5" y2="674.2" stroke="#1c1c1c" stroke-width="0.9" />
<path d="M475.8,674.2 V679 Q475.8,681 473.5,681 H467 Q457,681 457,690 V696 H468.3 V693.5 Q468.3,692 470,692 L473,692.3 Q475.8,693 475.8,696 V711.7 H492.6 V697 Q492.6,695 494.5,695 H501.5 V680 H494.5 Q492.6,680 492.6,678 V674.2 Z" stroke="#1c1c1c" stroke-width="1" fill="#fff" />
<rect x="457" y="696" width="11.3" height="4.2" rx="0" stroke="#111" stroke-width="0.6" fill="#111" />
<line x1="470.5" y1="681" x2="470.5" y2="692" stroke="#1c1c1c" stroke-width="0.8" />
<path d="M503,676.3 H514.3 Q516.3,676.3 516.3,678.3 V693.8 Q516.3,695.8 514.3,695.8 H503 Q501.7,695.8 501.7,694 V678 Q501.7,676.3 503,676.3 Z" stroke="#1c1c1c" stroke-width="1.1" fill="#fff" />
<path d="M503.5,677.3 H514.5" stroke="#1c1c1c" stroke-width="2" fill="none" />
<path d="M502,689 H516 M502,693.7 H516" stroke="#1c1c1c" stroke-width="1" fill="none" />
<path d="M504,689 L507,693.7" stroke="#1c1c1c" stroke-width="0.8" fill="none" />
<line x1="484.5" y1="676" x2="484.5" y2="712" stroke="#b8b2ac" stroke-width="0.9" stroke-dasharray="9 2.5"/>
<rect x="474.2" y="711.7" width="19.1" height="7.5" rx="0.8" stroke="#1c1c1c" stroke-width="1.1" fill="#fff" />
<line x1="480.5" y1="711.7" x2="480.5" y2="719.2" stroke="#1c1c1c" stroke-width="0.9" />
<line x1="487.5" y1="711.7" x2="487.5" y2="719.2" stroke="#1c1c1c" stroke-width="0.9" />
<rect x="437.4" y="728.4" width="9.4" height="10.9" rx="0" stroke="#1c1c1c" stroke-width="1" fill="#fff" />
<path d="M446.8,717.3 H461 V749.3 H446.8" stroke="#1c1c1c" stroke-width="1" fill="#fff" />
<path d="M447,720.5 H461 M447,747 H461" stroke="#1c1c1c" stroke-width="1.3" fill="none" />
<rect x="461" y="724.7" width="9.5" height="17.8" rx="1" stroke="#1c1c1c" stroke-width="1.1" fill="#fff" />
<line x1="461" y1="729.5" x2="470.5" y2="729.5" stroke="#1c1c1c" stroke-width="0.7" />
<line x1="461" y1="738.5" x2="470.5" y2="738.5" stroke="#1c1c1c" stroke-width="0.7" />
<rect x="470.5" y="727" width="6.2" height="13" rx="0" stroke="#1c1c1c" stroke-width="1" fill="#fff" />
<rect x="498.3" y="722" width="15.0" height="24.3" rx="0" stroke="#1c1c1c" stroke-width="1.2" fill="#fff" />
<path d="M480,719.2 H495 Q498,719.2 498.3,722.5 Q499.3,733.5 498.3,745 Q498,748.3 495,748.3 H480 Q477,748.3 476.7,745 Q475.7,733.5 476.7,722.5 Q477,719.2 480,719.2 Z" stroke="#1c1c1c" stroke-width="1.4" fill="#fff" />
<path d="M519.5,721.3 H534.5 Q536.2,721.3 536.2,723 V744 Q536.2,745.8 534.5,745.8 H515 V733 Z" stroke="#1c1c1c" stroke-width="1.2" fill="#fff" />
<path d="M519.5,721.6 H535.5" stroke="#1c1c1c" stroke-width="2" fill="none" />
<line x1="513.3" y1="722.5" x2="519.5" y2="721.6" stroke="#1c1c1c" stroke-width="1" />
<path d="M528,746 L530.4,782 Q530.6,784 532.4,784 Q534.3,784 534.5,782 L535,746" stroke="#1c1c1c" stroke-width="1.1" fill="#fff" />
<path d="M529.6,748 L531.6,781" stroke="#1c1c1c" stroke-width="0.7" fill="none" />
<rect x="520" y="746" width="4" height="2.6" rx="0" stroke="#1c1c1c" stroke-width="0.8" fill="#888" />
<line x1="427" y1="733.5" x2="527" y2="733.5" stroke="#b8b2ac" stroke-width="0.9" stroke-dasharray="12 3"/>
<path d="M478.4,748.3 V784 C478.8,794 482,802.5 489,808 C495,812.6 503,814.6 512,815.8 L548,819 Q553,818.5 555,812.4 L513,804.4 C504,802.6 498,797 495.5,791 C493.5,786 493,782 493,778 V748.3" stroke="#1c1c1c" stroke-width="1.3" fill="#fff" />
<rect x="532.4" y="818.5" width="12.0" height="2.5" rx="0" stroke="#1c1c1c" stroke-width="0.8" fill="#999" />
<line x1="485.5" y1="748" x2="485.5" y2="814" stroke="#666" stroke-width="0.9" stroke-dasharray="17 4"/>
<line x1="539.5" y1="809" x2="539.5" y2="874" stroke="#666" stroke-width="0.9" stroke-dasharray="17 4"/>
<line x1="400.7" y1="717.5" x2="446.8" y2="717.5" stroke="#3a3a3a" stroke-width="0.7" />
<line x1="400.7" y1="749.5" x2="446.8" y2="749.5" stroke="#3a3a3a" stroke-width="0.7" />
<line x1="405.5" y1="717.3" x2="405.5" y2="781" stroke="#3a3a3a" stroke-width="0.7" />
<polygon points="405.50,717.30 407.20,726.30 403.80,726.30" fill="#111" stroke="none" stroke-width="0.6"/>
<polygon points="405.50,749.30 403.80,740.30 407.20,740.30" fill="#111" stroke="none" stroke-width="0.6"/>
<g transform="rotate(-90 399.3 775.5)"><ellipse cx="399.3" cy="775.5" rx="4.3" ry="4.085" fill="none" stroke="#222" stroke-width="1.1"/><line x1="395.21500000000003" y1="781.735" x2="403.815" y2="769.05" stroke="#222" stroke-width="1.1"/></g>
<text x="404" y="769.5" style="font-family:&quot;Liberation Serif&quot;,serif" font-size="14" font-weight="normal" text-anchor="start" fill="#222" transform="rotate(-90 404 769.5)" >60</text>
<line x1="425.5" y1="710" x2="425.5" y2="782" stroke="#3a3a3a" stroke-width="0.7" />
<line x1="420.7" y1="728.5" x2="434" y2="728.5" stroke="#777" stroke-width="0.7" />
<line x1="420.7" y1="739.5" x2="434" y2="739.5" stroke="#3a3a3a" stroke-width="0.7" />
<polygon points="425.50,728.00 424.00,720.00 427.00,720.00" fill="#111" stroke="none" stroke-width="0.6"/>
<polygon points="425.50,739.30 427.00,747.30 424.00,747.30" fill="#111" stroke="none" stroke-width="0.6"/>
<text x="424" y="769" style="font-family:&quot;Liberation Serif&quot;,serif" font-size="13" font-weight="normal" text-anchor="middle" fill="#222" transform="rotate(-90 424 769)" textLength="26" lengthAdjust="spacingAndGlyphs" >G1/2</text>
<line x1="543.3" y1="735.5" x2="579" y2="735.5" stroke="#3a3a3a" stroke-width="0.7" />
<line x1="544" y1="820.5" x2="579" y2="820.5" stroke="#3a3a3a" stroke-width="0.7" />
<line x1="574.5" y1="735" x2="574.5" y2="820.4" stroke="#3a3a3a" stroke-width="0.7" />
<polygon points="574.50,735.00 576.30,744.00 572.70,744.00" fill="#111" stroke="none" stroke-width="0.6"/>
<polygon points="574.50,820.40 572.70,811.40 576.30,811.40" fill="#111" stroke="none" stroke-width="0.6"/>
<text x="571.5" y="777" style="font-family:&quot;Liberation Sans&quot;,serif" font-size="14" font-weight="normal" text-anchor="middle" fill="#222" transform="rotate(-90 571.5 777)" textLength="18.5" lengthAdjust="spacingAndGlyphs" stroke="#222" stroke-width="0.3">159</text>
<line x1="446.5" y1="793" x2="446.5" y2="900" stroke="#3a3a3a" stroke-width="0.9" />
<line x1="554.5" y1="819" x2="554.5" y2="900" stroke="#3a3a3a" stroke-width="0.7" />
<line x1="485.5" y1="852" x2="485.5" y2="876" stroke="#3a3a3a" stroke-width="0.7" />
<line x1="447" y1="847.5" x2="539" y2="847.5" stroke="#3a3a3a" stroke-width="0.7" />
<polygon points="447.00,847.50 456.00,845.70 456.00,849.30" fill="#111" stroke="none" stroke-width="0.6"/>
<polygon points="539.00,847.50 530.00,849.30 530.00,845.70" fill="#111" stroke="none" stroke-width="0.6"/>
<text x="491" y="843.6" style="font-family:&quot;Liberation Serif&quot;,serif" font-size="13" font-weight="normal" text-anchor="middle" fill="#222" >150</text>
<line x1="485.4" y1="871.5" x2="539" y2="871.5" stroke="#3a3a3a" stroke-width="0.7" />
<polygon points="485.40,871.50 494.40,869.70 494.40,873.30" fill="#111" stroke="none" stroke-width="0.6"/>
<polygon points="539.00,871.50 530.00,873.30 530.00,869.70" fill="#111" stroke="none" stroke-width="0.6"/>
<text x="513" y="867.5" style="font-family:&quot;Liberation Sans&quot;,serif" font-size="13.5" font-weight="normal" text-anchor="middle" fill="#222" textLength="12.5" lengthAdjust="spacingAndGlyphs" stroke="#222" stroke-width="0.5">99</text>
<line x1="447" y1="891.5" x2="554.4" y2="891.5" stroke="#3a3a3a" stroke-width="0.7" />
<polygon points="447.00,891.50 456.00,889.70 456.00,893.30" fill="#111" stroke="none" stroke-width="0.6"/>
<polygon points="554.40,891.50 545.40,893.30 545.40,889.70" fill="#111" stroke="none" stroke-width="0.6"/>
<text x="498" y="889" style="font-family:&quot;Liberation Serif&quot;,serif" font-size="13" font-weight="normal" text-anchor="middle" fill="#222" >180</text>
</svg>
</body></html>
